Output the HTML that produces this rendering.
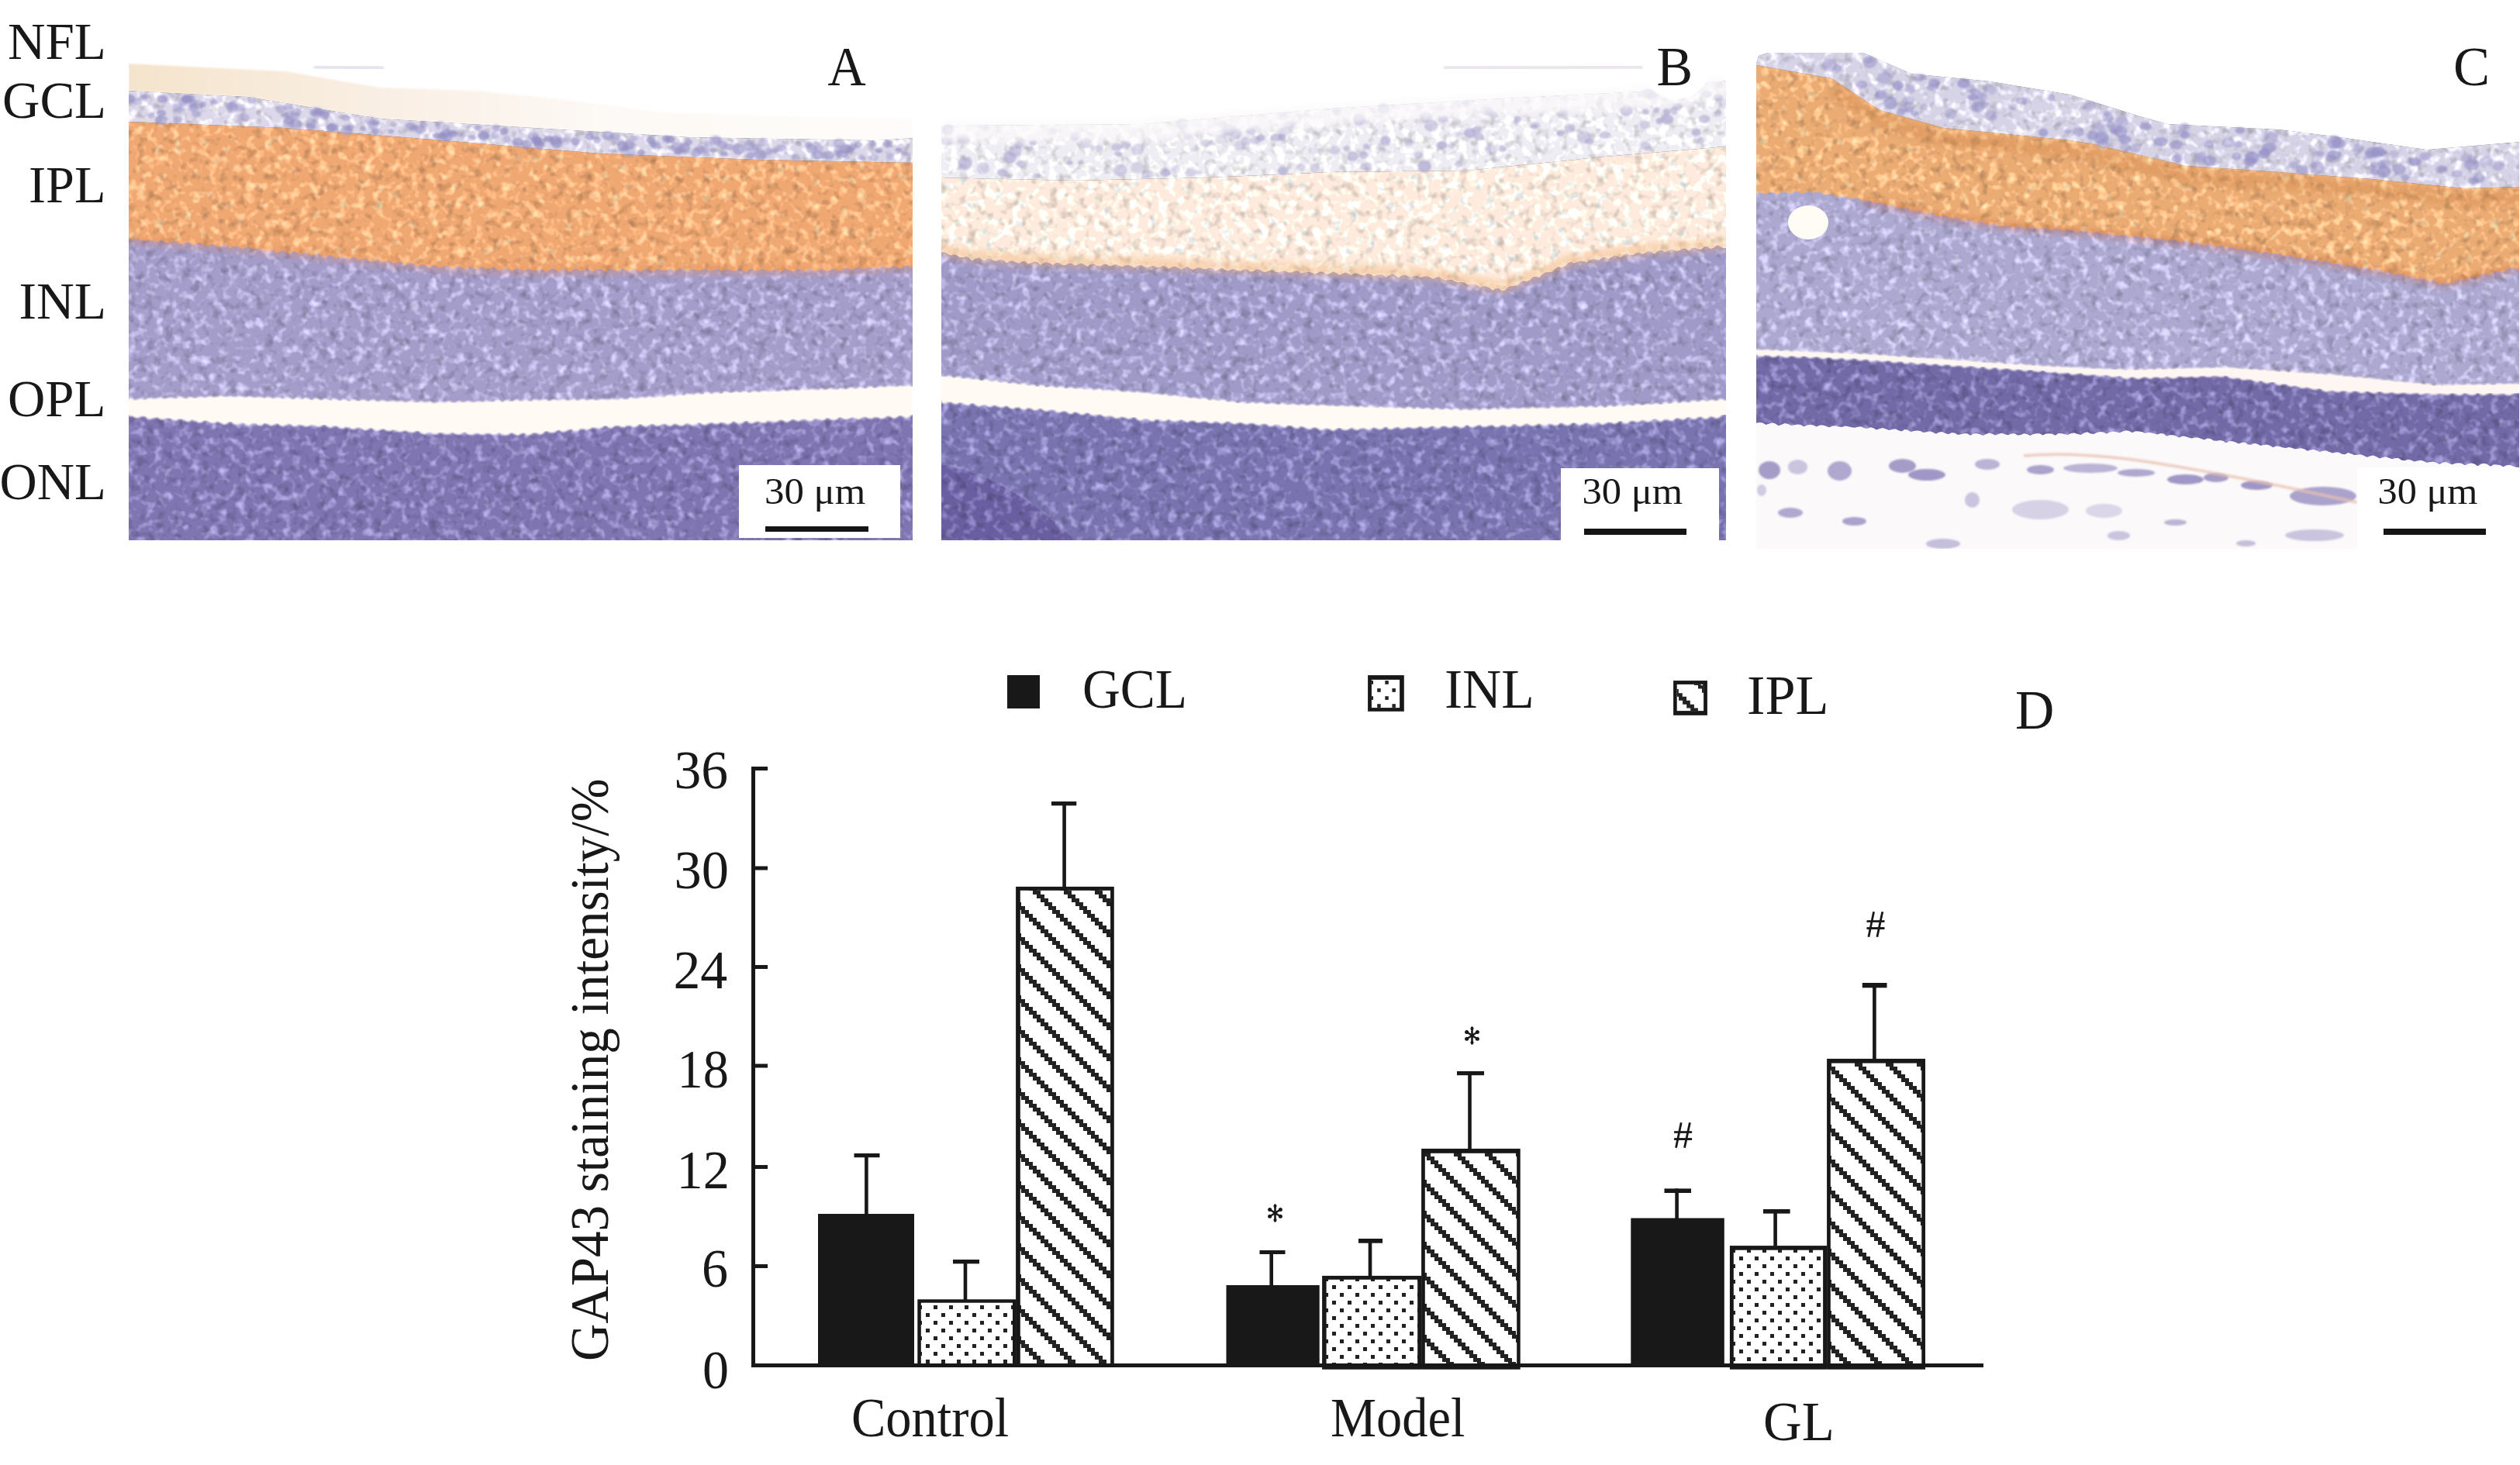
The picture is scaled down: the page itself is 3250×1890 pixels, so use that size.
<!DOCTYPE html>
<html><head><meta charset="utf-8"><style>
html,body{margin:0;padding:0;background:#fff;overflow:hidden}
svg{display:block}
text{font-family:"Liberation Serif", serif}
</style></head><body>
<svg width="3250" height="1890" viewBox="0 0 3250 1890">
<defs>
<pattern id="dots" patternUnits="userSpaceOnUse" x="0" y="0" width="20" height="20">
  <rect width="20" height="20" fill="#fff"/>
  <rect x="4" y="4" width="5" height="5" fill="#222"/>
  <rect x="14" y="14" width="5" height="5" fill="#222"/>
</pattern>
<pattern id="dotsL" patternUnits="userSpaceOnUse" x="1764" y="871" width="19" height="19">
  <rect x="0" y="7" width="5" height="5" fill="#222"/>
  <rect x="9.5" y="16.5" width="5" height="5" fill="#222"/>
</pattern>
<pattern id="hatch" patternUnits="userSpaceOnUse" x="27" y="4" width="40" height="40">
  <rect width="40" height="40" fill="#fff"/>
  <rect x="0" y="0" width="10" height="5" fill="#222"/><rect x="5" y="5" width="10" height="5" fill="#222"/><rect x="10" y="10" width="10" height="5" fill="#222"/><rect x="15" y="15" width="10" height="5" fill="#222"/><rect x="20" y="20" width="10" height="5" fill="#222"/><rect x="25" y="25" width="10" height="5" fill="#222"/><rect x="30" y="30" width="10" height="5" fill="#222"/><rect x="35" y="35" width="10" height="5" fill="#222"/>
  <rect x="-5" y="35" width="10" height="5" fill="#222"/>
</pattern>
<pattern id="hatchL" patternUnits="userSpaceOnUse" x="2162.6" y="882.6" width="34.8" height="35.8">
  <rect width="34.8" height="35.8" fill="#fff"/>
  <path d="M0 10 h5 v5 h5 v5 h5 v5 h5 v5 h5 v5.8 h-10 v-5 h-5 v-5 h-5 v-5 h-5 v-5 h-5z" fill="#222"/>
  <path d="M22 0 h10 v5 h2.8 v10 h-5 v-5 h-5 v-5 h-2.8z" fill="#222"/>
</pattern>
<pattern id="hC" patternUnits="userSpaceOnUse" x="27" y="4" width="40" height="40"><rect width="40" height="40" fill="#fff"/><rect x="0" y="0" width="10" height="5" fill="#222"/><rect x="5" y="5" width="10" height="5" fill="#222"/><rect x="10" y="10" width="10" height="5" fill="#222"/><rect x="15" y="15" width="10" height="5" fill="#222"/><rect x="20" y="20" width="10" height="5" fill="#222"/><rect x="25" y="25" width="10" height="5" fill="#222"/><rect x="30" y="30" width="10" height="5" fill="#222"/><rect x="35" y="35" width="10" height="5" fill="#222"/><rect x="-5" y="35" width="10" height="5" fill="#222"/></pattern><pattern id="hM" patternUnits="userSpaceOnUse" x="30" y="2" width="40" height="40"><rect width="40" height="40" fill="#fff"/><rect x="0" y="0" width="10" height="5" fill="#222"/><rect x="5" y="5" width="10" height="5" fill="#222"/><rect x="10" y="10" width="10" height="5" fill="#222"/><rect x="15" y="15" width="10" height="5" fill="#222"/><rect x="20" y="20" width="10" height="5" fill="#222"/><rect x="25" y="25" width="10" height="5" fill="#222"/><rect x="30" y="30" width="10" height="5" fill="#222"/><rect x="35" y="35" width="10" height="5" fill="#222"/><rect x="-5" y="35" width="10" height="5" fill="#222"/></pattern><pattern id="hG" patternUnits="userSpaceOnUse" x="22" y="1" width="40" height="40"><rect width="40" height="40" fill="#fff"/><rect x="0" y="0" width="10" height="5" fill="#222"/><rect x="5" y="5" width="10" height="5" fill="#222"/><rect x="10" y="10" width="10" height="5" fill="#222"/><rect x="15" y="15" width="10" height="5" fill="#222"/><rect x="20" y="20" width="10" height="5" fill="#222"/><rect x="25" y="25" width="10" height="5" fill="#222"/><rect x="30" y="30" width="10" height="5" fill="#222"/><rect x="35" y="35" width="10" height="5" fill="#222"/><rect x="-5" y="35" width="10" height="5" fill="#222"/></pattern><pattern id="dC" patternUnits="userSpaceOnUse" x="4" y="4" width="20" height="20"><rect width="20" height="20" fill="#fff"/><rect x="0" y="0" width="5" height="5" fill="#222"/><rect x="10" y="10" width="5" height="5" fill="#222"/></pattern><pattern id="dM" patternUnits="userSpaceOnUse" x="18" y="18" width="20" height="20"><rect width="20" height="20" fill="#fff"/><rect x="0" y="0" width="5" height="5" fill="#222"/><rect x="10" y="10" width="5" height="5" fill="#222"/></pattern><pattern id="dG" patternUnits="userSpaceOnUse" x="3" y="1" width="20" height="20"><rect width="20" height="20" fill="#fff"/><rect x="0" y="0" width="5" height="5" fill="#222"/><rect x="10" y="10" width="5" height="5" fill="#222"/></pattern>
<linearGradient id="gA_nfl" x1="0" y1="0" x2="1" y2="0">
  <stop offset="0" stop-color="#f5e4cc"/><stop offset="0.3" stop-color="#f9eee2"/><stop offset="0.6" stop-color="#fdf9f5"/><stop offset="1" stop-color="#fefcfa"/>
</linearGradient>
<clipPath id="clipA"><rect x="166" y="60" width="1011" height="637"/></clipPath>
<clipPath id="clipB"><rect x="1214" y="60" width="1012" height="637"/></clipPath>
<clipPath id="clipC"><rect x="2265" y="60" width="984" height="648"/></clipPath>
<filter id="soft4" x="-5%" y="-50%" width="110%" height="200%"><feGaussianBlur stdDeviation="4"/></filter>
<filter id="soft" x="-5%" y="-50%" width="110%" height="200%"><feGaussianBlur stdDeviation="1.3"/></filter>
<filter id="tex" x="0" y="0" width="100%" height="100%" color-interpolation-filters="sRGB">
  <feTurbulence type="fractalNoise" baseFrequency="0.085" numOctaves="2" seed="7" result="n"/>
  <feColorMatrix in="n" type="matrix" values="2.6 0 0 0 -1.3  2.6 0 0 0 -1.3  2.6 0 0 0 -1.3  0 0 0 0 1" result="g"/>
  <feColorMatrix in="n" type="matrix" values="0 0 2.6 0 -1.35  0 0 2.6 0 -1.35  0 0 2.6 0 -1.35  0 0 0 0 1" result="D"/>
  <feColorMatrix in="D" type="matrix" values="-0.22 0 0 0 1  0 -0.22 0 0 1  0 0 -0.22 0 1  0 0 0 0 1" result="dd"/>
  <feComposite in="SourceGraphic" in2="g" operator="arithmetic" k1="0" k2="1" k3="0.28" k4="0" result="m"/>
  <feComposite in="m" in2="dd" operator="arithmetic" k1="1" k2="0" k3="0" k4="0" result="m2"/>
  <feComposite in="m2" in2="SourceGraphic" operator="in"/>
</filter>
</defs>
<rect width="3250" height="1890" fill="#fff"/>
<g clip-path="url(#clipA)"><path d="M166,82 L368,92 L490,113 L611,117 L733,129 L854,145 L976,149 L1177,153 L1177,178 L1130,181 L890,177 L690,165 L490,153 L320,125 L166,117 Z" fill="url(#gA_nfl)" filter="url(#soft)"/><g filter="url(#tex)"><path d="M166,117 L320,125 L490,153 L690,165 L890,177 L1130,181 L1177,178 L1177,210 L976,206 L773,198 L570,181 L368,165 L166,157 Z" fill="#dcd8ea"/><path d="M166,157 L368,165 L570,181 L773,198 L976,206 L1177,210 L1177,348 L1059,353 L926,353 L793,353 L680,353 L559,348 L426,335 L293,322 L166,313 Z" fill="#efa872"/><path d="M166.0,308.7 L170.1,310.1 L174.2,307.8 L178.3,307.5 L182.4,309.9 L186.5,310.8 L190.6,309.7 L194.7,309.3 L198.8,311.1 L202.9,312.0 L207.0,309.8 L211.1,311.0 L215.2,313.0 L219.3,313.4 L223.4,311.2 L227.5,311.7 L231.5,315.0 L235.6,314.4 L239.7,312.6 L243.8,312.5 L247.9,315.5 L252.0,315.4 L256.1,313.1 L260.2,314.8 L264.3,317.1 L268.4,316.4 L272.5,315.2 L276.6,315.2 L280.7,319.0 L284.8,317.2 L288.9,315.1 L293.0,316.5 L297.0,320.6 L301.1,317.3 L305.1,317.2 L309.1,319.0 L313.2,321.5 L317.2,318.4 L321.2,318.7 L325.2,320.9 L329.3,321.5 L333.3,320.4 L337.3,321.0 L341.4,324.3 L345.4,323.2 L349.4,322.1 L353.5,323.2 L357.5,326.1 L361.5,324.3 L365.5,322.9 L369.6,325.4 L373.6,327.2 L377.6,324.4 L381.7,324.9 L385.7,327.7 L389.7,327.8 L393.8,325.8 L397.8,327.4 L401.8,329.3 L405.8,329.2 L409.9,327.1 L413.9,328.5 L417.9,332.7 L422.0,329.2 L426.0,329.2 L430.0,331.1 L434.1,333.4 L438.1,331.2 L442.1,331.2 L446.2,333.0 L450.2,333.9 L454.2,331.6 L458.2,332.3 L462.3,335.4 L466.3,334.6 L470.3,333.5 L474.4,334.9 L478.4,337.5 L482.4,335.9 L486.5,334.7 L490.5,336.8 L494.5,338.2 L498.5,337.1 L502.6,336.2 L506.6,340.0 L510.6,339.6 L514.7,337.6 L518.7,338.3 L522.7,342.1 L526.8,339.7 L530.8,339.2 L534.8,341.1 L538.8,343.9 L542.9,341.6 L546.9,341.4 L550.9,343.6 L555.0,344.2 L559.0,341.8 L563.0,342.9 L567.1,345.6 L571.1,343.9 L575.1,342.7 L579.2,343.7 L583.2,346.9 L587.2,344.4 L591.3,342.9 L595.3,344.8 L599.3,347.4 L603.4,345.2 L607.4,343.6 L611.4,346.7 L615.5,347.1 L619.5,344.5 L623.5,345.4 L627.6,347.3 L631.6,346.5 L635.6,345.1 L639.7,345.7 L643.7,349.5 L647.7,347.1 L651.8,346.3 L655.8,346.9 L659.8,350.0 L663.9,347.2 L667.9,346.0 L671.9,348.2 L676.0,349.1 L680.0,347.4 L684.0,347.3 L688.1,349.4 L692.1,349.1 L696.1,347.4 L700.2,347.8 L704.2,350.9 L708.2,348.5 L712.3,346.4 L716.3,347.7 L720.4,350.5 L724.4,347.8 L728.4,347.3 L732.5,349.4 L736.5,350.1 L740.5,347.1 L744.6,346.9 L748.6,349.8 L752.6,348.8 L756.7,346.8 L760.7,347.4 L764.8,350.2 L768.8,348.1 L772.8,347.2 L776.9,348.0 L780.9,351.0 L784.9,347.9 L789.0,346.7 L793.0,348.6 L797.0,350.2 L801.1,346.9 L805.1,347.1 L809.1,349.5 L813.2,349.7 L817.2,347.1 L821.2,348.0 L825.2,350.2 L829.3,348.5 L833.3,346.6 L837.3,348.1 L841.4,350.3 L845.4,348.0 L849.4,346.9 L853.5,348.6 L857.5,349.4 L861.5,347.6 L865.5,346.9 L869.6,349.3 L873.6,348.8 L877.6,346.5 L881.7,347.2 L885.7,350.5 L889.7,348.3 L893.8,347.4 L897.8,347.9 L901.8,350.1 L905.8,347.8 L909.9,346.9 L913.9,348.8 L917.9,349.5 L922.0,347.7 L926.0,347.0 L930.0,349.7 L934.1,348.8 L938.1,347.2 L942.1,347.7 L946.2,350.3 L950.2,348.1 L954.2,346.7 L958.2,349.0 L962.3,350.9 L966.3,347.8 L970.3,346.9 L974.4,349.4 L978.4,349.4 L982.4,347.1 L986.5,348.0 L990.5,349.9 L994.5,349.2 L998.5,347.6 L1002.6,348.3 L1006.6,351.0 L1010.6,348.6 L1014.7,347.4 L1018.7,349.0 L1022.7,350.4 L1026.8,347.8 L1030.8,347.0 L1034.8,349.1 L1038.8,349.9 L1042.9,346.8 L1046.9,348.1 L1050.9,350.1 L1055.0,349.0 L1059.0,347.1 L1063.1,348.2 L1067.1,349.9 L1071.2,347.9 L1075.3,346.9 L1079.3,347.2 L1083.4,350.3 L1087.5,346.7 L1091.6,345.8 L1095.6,347.0 L1099.7,348.0 L1103.8,345.4 L1107.8,345.1 L1111.9,346.4 L1116.0,347.2 L1120.0,345.0 L1124.1,344.9 L1128.2,346.5 L1132.2,346.1 L1136.3,343.4 L1140.4,343.5 L1144.4,346.2 L1148.5,345.3 L1152.6,342.6 L1156.7,344.2 L1160.7,346.6 L1164.8,343.9 L1168.9,342.2 L1172.9,343.7 L1177,346 L1177,499 L1059,504 L926,508 L793,517 L680,518 L559,521 L426,517 L293,513 L166,517 Z" fill="#a49cc9"/><path d="M166,535 L293,544 L426,548 L559,557 L680,558 L793,548 L926,544 L1059,539 L1177,535 L1177,697 L166,697 Z" fill="#7e75b1"/></g><g filter="url(#soft)"><ellipse cx="623.4" cy="174.3" rx="7.7" ry="5.9" fill="#9490c4" opacity="0.55"/><ellipse cx="759.8" cy="176.2" rx="6.0" ry="5.0" fill="#9490c4" opacity="0.67"/><ellipse cx="261.2" cy="134.9" rx="4.4" ry="3.9" fill="#9490c4" opacity="0.63"/><ellipse cx="208.3" cy="155.1" rx="7.9" ry="6.5" fill="#9490c4" opacity="0.60"/><ellipse cx="325.2" cy="129.3" rx="6.1" ry="3.8" fill="#9490c4" opacity="0.43"/><ellipse cx="410.6" cy="143.6" rx="5.9" ry="4.4" fill="#9490c4" opacity="0.69"/><ellipse cx="690.8" cy="180.9" rx="6.0" ry="5.0" fill="#9490c4" opacity="0.53"/><ellipse cx="447.2" cy="168.2" rx="8.0" ry="7.1" fill="#9490c4" opacity="0.63"/><ellipse cx="484.7" cy="158.8" rx="5.2" ry="3.2" fill="#9490c4" opacity="0.66"/><ellipse cx="570.8" cy="175.4" rx="5.5" ry="5.2" fill="#9490c4" opacity="0.69"/><ellipse cx="166.6" cy="127.2" rx="7.6" ry="5.8" fill="#9490c4" opacity="0.74"/><ellipse cx="567.8" cy="161.9" rx="6.5" ry="5.7" fill="#9490c4" opacity="0.46"/><ellipse cx="254.1" cy="135.5" rx="7.9" ry="6.8" fill="#9490c4" opacity="0.40"/><ellipse cx="415.1" cy="145.9" rx="4.2" ry="3.7" fill="#9490c4" opacity="0.42"/><ellipse cx="731.4" cy="179.9" rx="4.8" ry="4.1" fill="#9490c4" opacity="0.40"/><ellipse cx="816.8" cy="178.1" rx="5.7" ry="3.8" fill="#9490c4" opacity="0.46"/><ellipse cx="1147.6" cy="201.8" rx="5.2" ry="4.7" fill="#9490c4" opacity="0.43"/><ellipse cx="564.6" cy="175.1" rx="6.6" ry="4.2" fill="#9490c4" opacity="0.75"/><ellipse cx="381.6" cy="144.6" rx="7.1" ry="5.1" fill="#9490c4" opacity="0.47"/><ellipse cx="240.2" cy="126.8" rx="6.3" ry="4.3" fill="#9490c4" opacity="0.59"/><ellipse cx="541.8" cy="166.7" rx="7.8" ry="6.0" fill="#9490c4" opacity="0.58"/><ellipse cx="1042.1" cy="186.5" rx="4.6" ry="4.2" fill="#9490c4" opacity="0.68"/><ellipse cx="418.2" cy="148.3" rx="7.0" ry="6.5" fill="#9490c4" opacity="0.43"/><ellipse cx="1126.6" cy="203.4" rx="6.4" ry="4.8" fill="#9490c4" opacity="0.39"/><ellipse cx="205.1" cy="154.3" rx="5.0" ry="4.2" fill="#9490c4" opacity="0.45"/><ellipse cx="998.8" cy="194.7" rx="5.2" ry="3.4" fill="#9490c4" opacity="0.64"/><ellipse cx="235.5" cy="131.2" rx="6.2" ry="5.6" fill="#9490c4" opacity="0.60"/><ellipse cx="449.3" cy="166.9" rx="4.8" ry="2.9" fill="#9490c4" opacity="0.46"/><ellipse cx="616.6" cy="164.7" rx="4.7" ry="3.4" fill="#9490c4" opacity="0.58"/><ellipse cx="299.0" cy="138.6" rx="7.6" ry="7.1" fill="#9490c4" opacity="0.61"/><ellipse cx="864.8" cy="190.3" rx="4.6" ry="2.8" fill="#9490c4" opacity="0.36"/><ellipse cx="1086.2" cy="198.6" rx="7.9" ry="4.8" fill="#9490c4" opacity="0.60"/><ellipse cx="653.5" cy="179.8" rx="5.3" ry="5.0" fill="#9490c4" opacity="0.38"/><ellipse cx="718.1" cy="185.0" rx="7.6" ry="6.5" fill="#9490c4" opacity="0.63"/><ellipse cx="968.0" cy="200.9" rx="5.4" ry="4.5" fill="#9490c4" opacity="0.71"/><ellipse cx="1046.7" cy="191.7" rx="7.2" ry="6.5" fill="#9490c4" opacity="0.58"/><ellipse cx="797.8" cy="182.7" rx="6.3" ry="5.1" fill="#9490c4" opacity="0.38"/><ellipse cx="812.4" cy="196.4" rx="7.5" ry="6.4" fill="#9490c4" opacity="0.51"/><ellipse cx="909.1" cy="192.0" rx="5.8" ry="5.1" fill="#9490c4" opacity="0.38"/><ellipse cx="924.5" cy="181.2" rx="6.4" ry="4.9" fill="#9490c4" opacity="0.44"/><ellipse cx="872.0" cy="188.9" rx="6.5" ry="6.0" fill="#9490c4" opacity="0.45"/><ellipse cx="177.4" cy="130.8" rx="6.7" ry="4.5" fill="#9490c4" opacity="0.42"/><ellipse cx="1081.7" cy="197.7" rx="5.8" ry="5.3" fill="#9490c4" opacity="0.48"/><ellipse cx="839.2" cy="181.1" rx="5.7" ry="5.0" fill="#9490c4" opacity="0.72"/><ellipse cx="1056.0" cy="191.2" rx="6.3" ry="4.5" fill="#9490c4" opacity="0.40"/><ellipse cx="667.9" cy="183.0" rx="7.4" ry="6.3" fill="#9490c4" opacity="0.73"/><ellipse cx="445.8" cy="152.0" rx="5.8" ry="4.0" fill="#9490c4" opacity="0.44"/><ellipse cx="584.5" cy="172.7" rx="6.0" ry="4.2" fill="#9490c4" opacity="0.69"/><ellipse cx="1158.8" cy="193.2" rx="4.3" ry="2.6" fill="#9490c4" opacity="0.70"/><ellipse cx="207.9" cy="145.9" rx="6.3" ry="4.4" fill="#9490c4" opacity="0.67"/><ellipse cx="185.3" cy="125.6" rx="5.8" ry="3.5" fill="#9490c4" opacity="0.68"/><ellipse cx="406.0" cy="145.4" rx="4.2" ry="3.4" fill="#9490c4" opacity="0.53"/><ellipse cx="802.9" cy="188.8" rx="7.2" ry="6.8" fill="#9490c4" opacity="0.62"/><ellipse cx="367.5" cy="148.3" rx="4.7" ry="2.8" fill="#9490c4" opacity="0.54"/><ellipse cx="888.0" cy="183.4" rx="5.1" ry="3.7" fill="#9490c4" opacity="0.63"/><ellipse cx="692.1" cy="180.5" rx="7.0" ry="5.2" fill="#9490c4" opacity="0.67"/><ellipse cx="1082.2" cy="185.1" rx="7.7" ry="6.6" fill="#9490c4" opacity="0.40"/><ellipse cx="624.5" cy="175.6" rx="7.6" ry="5.6" fill="#9490c4" opacity="0.58"/><ellipse cx="1055.0" cy="200.1" rx="7.8" ry="5.9" fill="#9490c4" opacity="0.61"/><ellipse cx="373.1" cy="155.3" rx="7.3" ry="6.0" fill="#9490c4" opacity="0.64"/><ellipse cx="381.6" cy="160.6" rx="7.9" ry="7.5" fill="#9490c4" opacity="0.56"/><ellipse cx="965.5" cy="188.1" rx="7.6" ry="6.9" fill="#9490c4" opacity="0.49"/><ellipse cx="249.7" cy="138.9" rx="6.2" ry="5.4" fill="#9490c4" opacity="0.54"/><ellipse cx="194.7" cy="148.7" rx="4.3" ry="3.7" fill="#9490c4" opacity="0.42"/><ellipse cx="504.7" cy="169.4" rx="4.6" ry="3.0" fill="#9490c4" opacity="0.56"/><ellipse cx="897.5" cy="196.7" rx="6.8" ry="6.3" fill="#9490c4" opacity="0.55"/><ellipse cx="1125.6" cy="185.8" rx="4.9" ry="3.8" fill="#9490c4" opacity="0.47"/><ellipse cx="902.9" cy="192.9" rx="6.1" ry="5.5" fill="#9490c4" opacity="0.57"/><ellipse cx="481.1" cy="160.8" rx="7.4" ry="6.8" fill="#9490c4" opacity="0.43"/><ellipse cx="1026.1" cy="203.3" rx="6.1" ry="4.9" fill="#9490c4" opacity="0.43"/><ellipse cx="707.8" cy="179.4" rx="6.4" ry="3.9" fill="#9490c4" opacity="0.74"/><ellipse cx="687.7" cy="175.9" rx="7.2" ry="5.7" fill="#9490c4" opacity="0.55"/><ellipse cx="864.6" cy="179.8" rx="6.2" ry="4.6" fill="#9490c4" opacity="0.73"/><ellipse cx="1099.6" cy="189.4" rx="5.9" ry="3.8" fill="#9490c4" opacity="0.52"/><ellipse cx="990.7" cy="201.1" rx="5.9" ry="4.2" fill="#9490c4" opacity="0.43"/><ellipse cx="790.7" cy="194.1" rx="4.5" ry="3.9" fill="#9490c4" opacity="0.36"/><ellipse cx="362.2" cy="141.1" rx="6.7" ry="4.8" fill="#9490c4" opacity="0.49"/><ellipse cx="792.6" cy="176.4" rx="6.9" ry="4.5" fill="#9490c4" opacity="0.55"/><ellipse cx="419.3" cy="148.6" rx="6.1" ry="4.6" fill="#9490c4" opacity="0.50"/><ellipse cx="583.9" cy="170.9" rx="4.6" ry="3.1" fill="#9490c4" opacity="0.60"/><ellipse cx="811.5" cy="186.5" rx="7.4" ry="6.0" fill="#9490c4" opacity="0.69"/><ellipse cx="401.2" cy="158.6" rx="7.2" ry="6.6" fill="#9490c4" opacity="0.48"/><ellipse cx="484.5" cy="170.0" rx="4.9" ry="4.6" fill="#9490c4" opacity="0.71"/><ellipse cx="301.4" cy="134.8" rx="6.9" ry="4.8" fill="#9490c4" opacity="0.39"/><ellipse cx="1007.3" cy="191.1" rx="7.2" ry="4.6" fill="#9490c4" opacity="0.51"/><ellipse cx="858.8" cy="178.5" rx="4.8" ry="4.0" fill="#9490c4" opacity="0.71"/><ellipse cx="1145.0" cy="185.7" rx="6.0" ry="5.2" fill="#9490c4" opacity="0.55"/><ellipse cx="859.2" cy="182.0" rx="4.3" ry="2.7" fill="#9490c4" opacity="0.36"/><ellipse cx="723.7" cy="180.8" rx="6.3" ry="4.1" fill="#9490c4" opacity="0.42"/><ellipse cx="372.2" cy="158.2" rx="8.0" ry="7.4" fill="#9490c4" opacity="0.39"/><ellipse cx="228.6" cy="154.9" rx="5.8" ry="5.1" fill="#9490c4" opacity="0.48"/><ellipse cx="638.1" cy="174.6" rx="5.7" ry="4.6" fill="#9490c4" opacity="0.36"/><ellipse cx="874.7" cy="195.9" rx="4.7" ry="3.6" fill="#9490c4" opacity="0.65"/><ellipse cx="575.8" cy="164.5" rx="4.7" ry="3.6" fill="#9490c4" opacity="0.36"/><ellipse cx="1069.0" cy="200.5" rx="6.8" ry="6.1" fill="#9490c4" opacity="0.60"/><ellipse cx="575.0" cy="171.5" rx="6.0" ry="5.7" fill="#9490c4" opacity="0.67"/><ellipse cx="427.1" cy="164.8" rx="7.0" ry="6.1" fill="#9490c4" opacity="0.68"/><ellipse cx="576.1" cy="176.7" rx="7.5" ry="6.3" fill="#9490c4" opacity="0.66"/><ellipse cx="939.6" cy="189.2" rx="6.9" ry="4.3" fill="#9490c4" opacity="0.49"/><ellipse cx="640.0" cy="165.2" rx="5.4" ry="4.5" fill="#9490c4" opacity="0.60"/><ellipse cx="400.7" cy="163.3" rx="6.7" ry="4.8" fill="#9490c4" opacity="0.61"/><ellipse cx="741.8" cy="182.5" rx="5.6" ry="5.3" fill="#9490c4" opacity="0.61"/><ellipse cx="875.0" cy="194.3" rx="7.9" ry="4.8" fill="#9490c4" opacity="0.60"/><ellipse cx="912.9" cy="185.5" rx="5.6" ry="3.5" fill="#9490c4" opacity="0.43"/><ellipse cx="545.8" cy="161.0" rx="5.0" ry="4.6" fill="#9490c4" opacity="0.57"/><ellipse cx="679.4" cy="186.5" rx="6.3" ry="5.9" fill="#9490c4" opacity="0.61"/><ellipse cx="984.4" cy="183.2" rx="6.4" ry="5.5" fill="#9490c4" opacity="0.37"/><ellipse cx="1106.4" cy="187.1" rx="5.9" ry="3.9" fill="#9490c4" opacity="0.55"/><ellipse cx="783.9" cy="174.9" rx="7.8" ry="5.8" fill="#9490c4" opacity="0.56"/><ellipse cx="770.4" cy="180.9" rx="5.1" ry="4.3" fill="#9490c4" opacity="0.57"/><ellipse cx="452.6" cy="163.4" rx="5.2" ry="3.1" fill="#9490c4" opacity="0.45"/><ellipse cx="209.2" cy="127.5" rx="7.0" ry="5.2" fill="#9490c4" opacity="0.71"/><ellipse cx="922.6" cy="181.6" rx="8.0" ry="7.4" fill="#9490c4" opacity="0.38"/><ellipse cx="1081.5" cy="192.6" rx="5.9" ry="5.6" fill="#9490c4" opacity="0.45"/><ellipse cx="695.1" cy="187.2" rx="6.9" ry="5.3" fill="#9490c4" opacity="0.74"/><ellipse cx="991.7" cy="194.7" rx="4.5" ry="3.7" fill="#9490c4" opacity="0.53"/><ellipse cx="371.9" cy="137.9" rx="6.1" ry="3.9" fill="#9490c4" opacity="0.53"/><ellipse cx="841.2" cy="186.5" rx="5.0" ry="4.1" fill="#9490c4" opacity="0.52"/><ellipse cx="952.5" cy="192.2" rx="8.0" ry="7.5" fill="#9490c4" opacity="0.64"/><ellipse cx="407.0" cy="144.9" rx="7.6" ry="6.6" fill="#9490c4" opacity="0.60"/><ellipse cx="529.1" cy="162.8" rx="6.7" ry="5.4" fill="#9490c4" opacity="0.59"/><ellipse cx="806.1" cy="191.0" rx="4.8" ry="3.3" fill="#9490c4" opacity="0.74"/><ellipse cx="1091.8" cy="202.6" rx="4.2" ry="2.6" fill="#9490c4" opacity="0.46"/><ellipse cx="595.9" cy="173.5" rx="4.4" ry="3.5" fill="#9490c4" opacity="0.38"/><ellipse cx="253.4" cy="146.8" rx="6.2" ry="5.1" fill="#9490c4" opacity="0.50"/><ellipse cx="649.8" cy="169.6" rx="5.4" ry="4.6" fill="#9490c4" opacity="0.69"/><ellipse cx="241.2" cy="127.9" rx="7.2" ry="5.9" fill="#9490c4" opacity="0.66"/><ellipse cx="381.5" cy="148.7" rx="5.0" ry="4.4" fill="#9490c4" opacity="0.50"/><ellipse cx="826.8" cy="196.9" rx="5.3" ry="4.2" fill="#9490c4" opacity="0.65"/><ellipse cx="1097.0" cy="192.8" rx="5.5" ry="3.5" fill="#9490c4" opacity="0.70"/><ellipse cx="245.4" cy="126.9" rx="6.3" ry="4.8" fill="#9490c4" opacity="0.62"/><ellipse cx="468.2" cy="166.0" rx="4.3" ry="2.9" fill="#9490c4" opacity="0.61"/><ellipse cx="248.6" cy="134.3" rx="6.9" ry="5.8" fill="#9490c4" opacity="0.46"/><ellipse cx="310.5" cy="139.0" rx="6.9" ry="5.0" fill="#9490c4" opacity="0.40"/><ellipse cx="883.1" cy="190.8" rx="7.7" ry="7.1" fill="#9490c4" opacity="0.72"/><ellipse cx="608.8" cy="177.7" rx="5.2" ry="3.7" fill="#9490c4" opacity="0.51"/><ellipse cx="1110.9" cy="203.4" rx="5.0" ry="3.6" fill="#9490c4" opacity="0.50"/><ellipse cx="533.3" cy="165.1" rx="5.6" ry="3.7" fill="#9490c4" opacity="0.58"/><ellipse cx="971.9" cy="193.0" rx="7.3" ry="5.9" fill="#9490c4" opacity="0.42"/><ellipse cx="933.3" cy="198.9" rx="5.1" ry="3.1" fill="#9490c4" opacity="0.56"/><ellipse cx="716.1" cy="181.3" rx="7.9" ry="6.5" fill="#9490c4" opacity="0.67"/><ellipse cx="230.8" cy="141.5" rx="7.2" ry="4.5" fill="#9490c4" opacity="0.38"/><ellipse cx="911.2" cy="198.4" rx="4.3" ry="3.6" fill="#9490c4" opacity="0.41"/><ellipse cx="920.0" cy="193.7" rx="5.0" ry="3.4" fill="#9490c4" opacity="0.66"/><ellipse cx="693.3" cy="183.6" rx="5.6" ry="4.0" fill="#9490c4" opacity="0.74"/><ellipse cx="845.8" cy="187.5" rx="6.1" ry="5.2" fill="#9490c4" opacity="0.63"/><ellipse cx="1091.0" cy="192.4" rx="7.3" ry="6.1" fill="#9490c4" opacity="0.69"/><ellipse cx="980.8" cy="199.5" rx="7.6" ry="7.1" fill="#9490c4" opacity="0.61"/><ellipse cx="695.6" cy="182.7" rx="7.2" ry="5.4" fill="#9490c4" opacity="0.52"/><ellipse cx="313.8" cy="151.5" rx="8.0" ry="5.8" fill="#9490c4" opacity="0.42"/><ellipse cx="372.6" cy="147.6" rx="5.2" ry="4.9" fill="#9490c4" opacity="0.37"/><ellipse cx="477.8" cy="155.9" rx="6.6" ry="5.7" fill="#9490c4" opacity="0.42"/><ellipse cx="229.0" cy="138.5" rx="6.3" ry="5.8" fill="#9490c4" opacity="0.36"/><ellipse cx="275.9" cy="131.7" rx="4.9" ry="3.3" fill="#9490c4" opacity="0.64"/><ellipse cx="767.3" cy="177.5" rx="4.7" ry="3.3" fill="#9490c4" opacity="0.42"/><ellipse cx="931.8" cy="187.1" rx="6.2" ry="5.5" fill="#9490c4" opacity="0.54"/><ellipse cx="429.3" cy="164.5" rx="7.7" ry="5.5" fill="#9490c4" opacity="0.57"/><ellipse cx="1133.5" cy="194.6" rx="4.9" ry="3.0" fill="#9490c4" opacity="0.73"/><ellipse cx="976.2" cy="189.7" rx="6.1" ry="4.8" fill="#9490c4" opacity="0.46"/><ellipse cx="1167.1" cy="198.2" rx="5.0" ry="3.0" fill="#9490c4" opacity="0.54"/></g><path d="M166.0,514.2 L170.1,513.7 L174.2,516.6 L178.3,514.4 L182.4,514.0 L186.5,515.9 L190.6,513.6 L194.7,513.3 L198.8,514.2 L202.9,513.7 L207.0,512.6 L211.1,514.3 L215.2,513.6 L219.3,512.4 L223.4,513.3 L227.5,514.4 L231.5,511.5 L235.6,512.5 L239.7,514.5 L243.8,511.9 L247.9,512.3 L252.0,514.1 L256.1,511.7 L260.2,511.5 L264.3,513.1 L268.4,511.2 L272.5,511.3 L276.6,512.5 L280.7,511.8 L284.8,509.8 L288.9,511.4 L293.0,511.8 L297.0,510.4 L301.1,512.1 L305.1,511.4 L309.1,510.7 L313.2,511.8 L317.2,512.5 L321.2,510.7 L325.2,512.0 L329.3,512.7 L333.3,511.7 L337.3,512.1 L341.4,513.7 L345.4,511.6 L349.4,512.9 L353.5,514.2 L357.5,512.0 L361.5,513.0 L365.5,514.6 L369.6,512.1 L373.6,513.1 L377.6,515.5 L381.7,513.1 L385.7,513.5 L389.7,515.0 L393.8,512.8 L397.8,513.7 L401.8,516.6 L405.8,513.4 L409.9,514.1 L413.9,516.4 L417.9,513.9 L422.0,514.1 L426.0,517.0 L430.0,514.1 L434.1,514.7 L438.1,517.4 L442.1,514.6 L446.2,515.3 L450.2,517.7 L454.2,515.0 L458.2,515.7 L462.3,517.3 L466.3,515.7 L470.3,515.6 L474.4,518.1 L478.4,516.0 L482.4,515.3 L486.5,518.5 L490.5,516.8 L494.5,516.1 L498.5,518.3 L502.6,517.5 L506.6,516.9 L510.6,518.5 L514.7,517.4 L518.7,517.3 L522.7,519.1 L526.8,517.8 L530.8,516.8 L534.8,518.8 L538.8,519.3 L542.9,517.3 L546.9,518.7 L550.9,518.6 L555.0,517.6 L559.0,520.0 L563.0,519.0 L567.1,518.1 L571.1,518.9 L575.1,518.7 L579.2,517.3 L583.2,519.1 L587.2,519.4 L591.3,516.7 L595.3,518.6 L599.3,518.8 L603.4,517.1 L607.4,518.2 L611.4,518.7 L615.5,517.2 L619.5,517.8 L623.5,518.8 L627.6,516.9 L631.6,517.5 L635.6,518.4 L639.7,515.9 L643.7,516.1 L647.7,518.8 L651.8,516.0 L655.8,516.4 L659.8,518.1 L663.9,515.7 L667.9,515.3 L671.9,518.2 L676.0,516.0 L680.0,515.2 L684.0,518.3 L688.1,515.2 L692.1,515.2 L696.1,517.1 L700.2,515.3 L704.2,514.9 L708.2,517.6 L712.3,515.3 L716.3,515.2 L720.4,516.8 L724.4,515.3 L728.4,515.1 L732.5,517.1 L736.5,515.5 L740.5,514.3 L744.6,516.9 L748.6,515.1 L752.6,514.2 L756.7,516.8 L760.7,515.2 L764.8,514.8 L768.8,516.5 L772.8,515.3 L776.9,514.5 L780.9,515.3 L784.9,515.5 L789.0,514.2 L793.0,515.1 L797.0,515.8 L801.1,513.2 L805.1,515.1 L809.1,515.0 L813.2,512.1 L817.2,513.4 L821.2,514.2 L825.2,512.3 L829.3,512.1 L833.3,513.0 L837.3,510.7 L841.4,512.2 L845.4,512.4 L849.4,510.4 L853.5,511.2 L857.5,512.0 L861.5,509.3 L865.5,510.1 L869.6,511.3 L873.6,509.1 L877.6,508.6 L881.7,510.3 L885.7,507.6 L889.7,508.2 L893.8,509.4 L897.8,507.1 L901.8,507.1 L905.8,509.0 L909.9,506.1 L913.9,506.4 L917.9,508.9 L922.0,506.2 L926.0,505.8 L930.0,508.4 L934.1,504.7 L938.1,505.0 L942.1,507.0 L946.2,505.5 L950.2,504.6 L954.2,506.4 L958.2,504.5 L962.3,504.2 L966.3,506.4 L970.3,504.8 L974.4,504.1 L978.4,506.2 L982.4,504.2 L986.5,503.4 L990.5,504.9 L994.5,504.3 L998.5,503.2 L1002.6,505.1 L1006.6,504.0 L1010.6,502.8 L1014.7,504.6 L1018.7,503.3 L1022.7,502.7 L1026.8,503.3 L1030.8,503.2 L1034.8,501.2 L1038.8,503.1 L1042.9,502.6 L1046.9,501.4 L1050.9,502.3 L1055.0,503.0 L1059.0,500.8 L1063.1,502.5 L1067.1,502.1 L1071.2,500.2 L1075.3,501.9 L1079.3,502.5 L1083.4,500.6 L1087.5,501.0 L1091.6,502.4 L1095.6,499.7 L1099.7,499.4 L1103.8,501.9 L1107.8,499.4 L1111.9,499.3 L1116.0,501.8 L1120.0,498.6 L1124.1,498.3 L1128.2,501.2 L1132.2,498.8 L1136.3,497.7 L1140.4,499.4 L1144.4,498.0 L1148.5,497.4 L1152.6,498.6 L1156.7,498.5 L1160.7,497.2 L1164.8,498.0 L1168.9,497.8 L1172.9,496.7 L1177,499 L1177,535 L1172.9,537.7 L1168.9,539.8 L1164.8,538.1 L1160.7,535.8 L1156.7,538.7 L1152.6,540.2 L1148.5,538.1 L1144.4,537.0 L1140.4,539.7 L1136.3,540.4 L1132.2,538.7 L1128.2,538.6 L1124.1,540.6 L1120.0,540.0 L1116.0,537.9 L1111.9,539.5 L1107.8,541.4 L1103.8,540.4 L1099.7,538.8 L1095.6,540.3 L1091.6,541.6 L1087.5,540.8 L1083.4,538.0 L1079.3,541.6 L1075.3,542.3 L1071.2,541.5 L1067.1,539.1 L1063.1,542.2 L1059.0,542.5 L1055.0,541.2 L1050.9,540.4 L1046.9,543.5 L1042.9,543.8 L1038.8,541.4 L1034.8,541.3 L1030.8,543.8 L1026.8,543.0 L1022.7,540.9 L1018.7,543.1 L1014.7,545.2 L1010.6,543.3 L1006.6,541.7 L1002.6,544.3 L998.5,544.9 L994.5,543.7 L990.5,543.0 L986.5,545.7 L982.4,545.8 L978.4,543.9 L974.4,544.6 L970.3,546.4 L966.3,546.1 L962.3,542.6 L958.2,545.7 L954.2,546.7 L950.2,546.3 L946.2,543.4 L942.1,546.8 L938.1,547.8 L934.1,545.8 L930.0,544.9 L926.0,547.1 L922.0,547.3 L917.9,545.2 L913.9,546.4 L909.9,548.6 L905.8,548.0 L901.8,545.0 L897.8,547.9 L893.8,549.0 L889.7,548.0 L885.7,545.9 L881.7,549.1 L877.6,549.7 L873.6,548.1 L869.6,546.9 L865.5,549.7 L861.5,549.5 L857.5,547.1 L853.5,548.0 L849.4,549.7 L845.4,549.4 L841.4,546.7 L837.3,549.0 L833.3,550.9 L829.3,549.5 L825.2,547.0 L821.2,550.3 L817.2,551.5 L813.2,549.4 L809.1,549.3 L805.1,551.6 L801.1,551.1 L797.0,549.3 L793.0,549.8 L789.0,552.8 L784.9,552.1 L780.9,548.8 L776.9,551.8 L772.8,553.2 L768.8,552.7 L764.8,551.5 L760.7,553.7 L756.7,555.0 L752.6,553.6 L748.6,553.7 L744.6,556.4 L740.5,556.8 L736.5,553.8 L732.5,555.3 L728.4,557.3 L724.4,557.6 L720.4,554.6 L716.3,557.6 L712.3,558.8 L708.2,557.9 L704.2,556.0 L700.2,559.4 L696.1,560.9 L692.1,558.9 L688.1,558.7 L684.0,560.8 L680.0,562.2 L676.0,558.6 L671.9,559.9 L667.9,562.2 L663.9,560.6 L659.8,558.3 L655.8,561.1 L651.8,561.8 L647.7,560.9 L643.7,558.5 L639.7,560.9 L635.6,561.5 L631.6,559.5 L627.6,559.3 L623.5,561.0 L619.5,560.7 L615.5,559.0 L611.4,560.0 L607.4,561.3 L603.4,560.8 L599.3,557.3 L595.3,560.0 L591.3,560.8 L587.2,560.2 L583.2,558.0 L579.2,560.5 L575.1,560.5 L571.1,558.9 L567.1,558.2 L563.0,560.6 L559.0,560.3 L555.0,558.1 L550.9,559.0 L546.9,560.5 L542.9,558.9 L538.8,555.5 L534.8,557.6 L530.8,558.5 L526.8,557.5 L522.7,555.4 L518.7,557.0 L514.7,557.6 L510.6,555.8 L506.6,554.5 L502.6,556.5 L498.5,556.0 L494.5,553.3 L490.5,554.4 L486.5,556.4 L482.4,554.7 L478.4,552.0 L474.4,554.4 L470.3,555.5 L466.3,553.4 L462.3,551.5 L458.2,553.5 L454.2,553.9 L450.2,551.8 L446.2,551.0 L442.1,553.3 L438.1,552.4 L434.1,549.8 L430.0,550.3 L426.0,551.9 L422.0,550.5 L417.9,547.7 L413.9,550.3 L409.9,551.1 L405.8,549.3 L401.8,548.2 L397.8,550.0 L393.8,550.6 L389.7,548.7 L385.7,548.3 L381.7,549.9 L377.6,549.7 L373.6,546.8 L369.6,548.2 L365.5,549.9 L361.5,549.4 L357.5,546.3 L353.5,548.3 L349.4,549.5 L345.4,547.5 L341.4,545.9 L337.3,549.2 L333.3,549.0 L329.3,546.5 L325.2,547.1 L321.2,548.9 L317.2,548.3 L313.2,545.2 L309.1,547.0 L305.1,548.3 L301.1,547.2 L297.0,543.6 L293.0,546.7 L288.9,548.1 L284.8,546.1 L280.7,544.1 L276.6,546.1 L272.5,546.0 L268.4,544.3 L264.3,542.2 L260.2,545.0 L256.1,545.2 L252.0,543.2 L247.9,541.4 L243.8,544.6 L239.7,543.5 L235.6,541.3 L231.5,540.6 L227.5,542.8 L223.4,542.5 L219.3,539.9 L215.2,539.8 L211.1,541.4 L207.0,541.3 L202.9,538.5 L198.8,539.6 L194.7,540.8 L190.6,540.8 L186.5,537.1 L182.4,537.6 L178.3,539.6 L174.2,539.0 L170.1,536.8 L166.0,537.2 Z" fill="#fffaf4" filter="url(#soft)"/><polyline points="166,309 293,318 426,331 559,344 680,349 793,349 926,349 1059,349 1177,344" fill="none" stroke="#e49060" stroke-width="9" opacity="0.40" filter="url(#soft4)"/></g><rect x="953" y="600" width="208" height="94" fill="#fff"/><rect x="987" y="679" width="133" height="7" fill="#151515"/><g clip-path="url(#clipB)"><g filter="url(#tex)"><path d="M1214,162 L1471,160 L1715,140 L1937,127 L2114,118 L2226,104 L2226,189 L2070,202 L1892,220 L1715,222 L1560,229 L1382,233 L1214,229 Z" fill="#efedf4"/><path d="M1214,229 L1382,233 L1560,229 L1715,222 L1892,220 L2070,202 L2226,189 L2226,322 L2114,331 L2026,344 L1937,379 L1848,362 L1715,357 L1604,353 L1471,348 L1338,344 L1250,338 L1214,330 Z" fill="#ffebdd"/><path d="M1214.0,325.5 L1218.0,325.4 L1222.0,327.5 L1226.0,329.4 L1230.0,328.3 L1234.0,329.2 L1238.0,332.1 L1242.0,331.9 L1246.0,330.9 L1250.0,332.7 L1254.0,336.8 L1258.0,333.5 L1262.0,332.5 L1266.0,334.4 L1270.0,336.5 L1274.0,333.6 L1278.0,334.1 L1282.0,336.5 L1286.0,336.6 L1290.0,334.5 L1294.0,335.6 L1298.0,339.3 L1302.0,337.0 L1306.0,336.2 L1310.0,338.3 L1314.0,339.7 L1318.0,337.4 L1322.0,337.1 L1326.0,340.5 L1330.0,339.0 L1334.0,337.5 L1338.0,338.6 L1342.0,341.7 L1346.1,339.1 L1350.1,337.9 L1354.1,339.5 L1358.2,341.7 L1362.2,338.7 L1366.2,339.5 L1370.2,341.8 L1374.3,342.0 L1378.3,339.8 L1382.3,340.0 L1386.4,342.7 L1390.4,341.0 L1394.4,339.4 L1398.5,341.4 L1402.5,344.0 L1406.5,341.0 L1410.5,340.4 L1414.6,342.5 L1418.6,343.4 L1422.6,341.2 L1426.7,340.7 L1430.7,343.2 L1434.7,342.6 L1438.8,340.7 L1442.8,342.3 L1446.8,344.2 L1450.8,342.7 L1454.9,341.8 L1458.9,343.2 L1462.9,345.6 L1467.0,343.0 L1471.0,341.8 L1475.0,343.4 L1479.1,345.5 L1483.1,343.2 L1487.1,342.9 L1491.2,345.1 L1495.2,344.8 L1499.2,343.1 L1503.2,344.1 L1507.3,346.9 L1511.3,344.6 L1515.3,343.6 L1519.4,345.5 L1523.4,347.8 L1527.4,345.3 L1531.5,344.1 L1535.5,346.8 L1539.5,347.8 L1543.5,345.6 L1547.6,345.2 L1551.6,347.1 L1555.6,347.2 L1559.7,345.6 L1563.7,345.7 L1567.7,349.6 L1571.8,347.4 L1575.8,345.6 L1579.8,347.9 L1583.8,349.6 L1587.9,347.4 L1591.9,347.2 L1595.9,349.0 L1600.0,349.7 L1604.0,347.5 L1608.1,347.4 L1612.2,350.2 L1616.3,350.3 L1620.4,347.3 L1624.6,348.1 L1628.7,350.4 L1632.8,350.9 L1636.9,348.7 L1641.0,348.1 L1645.1,350.9 L1649.2,350.9 L1653.3,349.5 L1657.4,349.5 L1661.6,351.5 L1665.7,351.5 L1669.8,349.4 L1673.9,349.5 L1678.0,352.4 L1682.1,351.7 L1686.2,350.7 L1690.3,351.2 L1694.4,352.9 L1698.6,352.5 L1702.7,350.2 L1706.8,350.9 L1710.9,353.5 L1715.0,353.0 L1719.0,350.6 L1723.1,351.9 L1727.1,354.8 L1731.1,353.2 L1735.2,351.4 L1739.2,353.5 L1743.2,354.8 L1747.2,352.2 L1751.3,352.9 L1755.3,354.8 L1759.3,355.5 L1763.4,353.1 L1767.4,353.7 L1771.4,356.0 L1775.5,355.5 L1779.5,353.9 L1783.5,354.6 L1787.5,358.1 L1791.6,355.1 L1795.6,353.6 L1799.6,355.3 L1803.7,357.9 L1807.7,355.6 L1811.7,354.4 L1815.8,356.6 L1819.8,357.2 L1823.8,355.7 L1827.8,356.1 L1831.9,358.0 L1835.9,356.7 L1839.9,356.3 L1844.0,357.2 L1848.0,360.1 L1852.0,358.1 L1856.1,357.3 L1860.1,360.1 L1864.2,362.0 L1868.2,360.9 L1872.3,360.8 L1876.3,363.0 L1880.4,364.5 L1884.4,363.7 L1888.5,364.6 L1892.5,367.2 L1896.5,367.3 L1900.6,366.3 L1904.6,367.6 L1908.7,371.1 L1912.7,369.1 L1916.8,369.4 L1920.8,371.1 L1924.9,374.7 L1928.9,372.2 L1933.0,372.0 L1937.0,375.3 L1941.0,374.4 L1945.1,370.0 L1949.1,369.1 L1953.2,368.8 L1957.2,367.4 L1961.3,363.6 L1965.3,362.3 L1969.4,363.1 L1973.4,360.9 L1977.5,357.1 L1981.5,357.0 L1985.5,357.9 L1989.6,353.6 L1993.6,351.3 L1997.7,350.9 L2001.7,351.0 L2005.8,346.4 L2009.8,344.0 L2013.9,345.0 L2017.9,343.8 L2022.0,339.7 L2026.0,337.8 L2030.0,339.7 L2034.0,338.1 L2038.0,336.5 L2042.0,337.0 L2046.0,338.5 L2050.0,335.9 L2054.0,334.0 L2058.0,334.8 L2062.0,335.5 L2066.0,332.6 L2070.0,331.4 L2074.0,334.0 L2078.0,332.1 L2082.0,329.4 L2086.0,330.5 L2090.0,332.7 L2094.0,328.9 L2098.0,327.3 L2102.0,329.0 L2106.0,329.1 L2110.0,326.5 L2114.0,325.9 L2118.0,327.7 L2122.0,326.6 L2126.0,323.5 L2130.0,325.0 L2134.0,327.7 L2138.0,323.7 L2142.0,322.5 L2146.0,324.6 L2150.0,324.6 L2154.0,322.0 L2158.0,322.0 L2162.0,323.9 L2166.0,323.0 L2170.0,320.8 L2174.0,320.7 L2178.0,323.9 L2182.0,320.0 L2186.0,319.6 L2190.0,321.2 L2194.0,322.0 L2198.0,318.3 L2202.0,318.2 L2206.0,321.1 L2210.0,319.7 L2214.0,316.6 L2218.0,317.6 L2222.0,319.9 L2226,320 L2226,517 L2070,526 L1892,530 L1715,525 L1604,521 L1471,508 L1338,499 L1214,486 Z" fill="#a09ac8"/><path d="M1214,517 L1338,526 L1471,539 L1604,544 L1715,552 L1892,548 L2070,544 L2226,535 L2226,697 L1214,697 Z" fill="#7973af"/><path d="M1214,600 C1260,605 1330,640 1385,697 L1214,697 Z" fill="#5a4c92" opacity="0.5"/></g><g filter="url(#soft)"><ellipse cx="1694.3" cy="194.2" rx="7.3" ry="4.8" fill="#a6a2cc" opacity="0.30"/><ellipse cx="1593.3" cy="172.6" rx="8.1" ry="6.8" fill="#a6a2cc" opacity="0.54"/><ellipse cx="1778.9" cy="191.5" rx="4.7" ry="3.6" fill="#a6a2cc" opacity="0.36"/><ellipse cx="2130.8" cy="123.3" rx="8.1" ry="5.1" fill="#a6a2cc" opacity="0.57"/><ellipse cx="1555.0" cy="184.4" rx="8.2" ry="5.0" fill="#a6a2cc" opacity="0.32"/><ellipse cx="2140.0" cy="156.1" rx="4.5" ry="4.2" fill="#a6a2cc" opacity="0.68"/><ellipse cx="1327.9" cy="191.5" rx="4.7" ry="3.3" fill="#a6a2cc" opacity="0.55"/><ellipse cx="1379.5" cy="209.9" rx="4.3" ry="2.8" fill="#a6a2cc" opacity="0.63"/><ellipse cx="1619.3" cy="181.2" rx="7.0" ry="5.4" fill="#a6a2cc" opacity="0.45"/><ellipse cx="1244.9" cy="209.8" rx="8.8" ry="8.3" fill="#a6a2cc" opacity="0.57"/><ellipse cx="1574.6" cy="180.2" rx="7.5" ry="6.2" fill="#a6a2cc" opacity="0.35"/><ellipse cx="1451.8" cy="186.9" rx="6.6" ry="5.8" fill="#a6a2cc" opacity="0.50"/><ellipse cx="1242.5" cy="215.7" rx="6.2" ry="4.8" fill="#a6a2cc" opacity="0.39"/><ellipse cx="1646.4" cy="177.2" rx="7.9" ry="5.0" fill="#a6a2cc" opacity="0.52"/><ellipse cx="1394.2" cy="209.6" rx="4.2" ry="2.9" fill="#a6a2cc" opacity="0.44"/><ellipse cx="1858.6" cy="138.9" rx="6.3" ry="4.2" fill="#a6a2cc" opacity="0.41"/><ellipse cx="1696.0" cy="216.8" rx="6.4" ry="6.0" fill="#a6a2cc" opacity="0.37"/><ellipse cx="2149.3" cy="144.2" rx="4.9" ry="4.3" fill="#a6a2cc" opacity="0.66"/><ellipse cx="1220.8" cy="181.4" rx="7.9" ry="5.7" fill="#a6a2cc" opacity="0.40"/><ellipse cx="1222.7" cy="167.4" rx="7.1" ry="6.7" fill="#a6a2cc" opacity="0.70"/><ellipse cx="1723.6" cy="144.3" rx="5.6" ry="4.9" fill="#a6a2cc" opacity="0.63"/><ellipse cx="1861.1" cy="153.5" rx="6.6" ry="5.1" fill="#a6a2cc" opacity="0.55"/><ellipse cx="1479.8" cy="224.3" rx="8.5" ry="5.6" fill="#a6a2cc" opacity="0.42"/><ellipse cx="2097.6" cy="142.7" rx="8.7" ry="6.8" fill="#a6a2cc" opacity="0.58"/><ellipse cx="1927.2" cy="148.3" rx="5.4" ry="3.7" fill="#a6a2cc" opacity="0.57"/><ellipse cx="1916.4" cy="142.2" rx="8.4" ry="6.3" fill="#a6a2cc" opacity="0.40"/><ellipse cx="1654.5" cy="220.2" rx="6.8" ry="5.6" fill="#a6a2cc" opacity="0.67"/><ellipse cx="2187.5" cy="170.7" rx="6.1" ry="4.9" fill="#a6a2cc" opacity="0.66"/><ellipse cx="2012.7" cy="171.8" rx="5.7" ry="4.2" fill="#a6a2cc" opacity="0.59"/><ellipse cx="1784.1" cy="140.3" rx="7.6" ry="6.9" fill="#a6a2cc" opacity="0.62"/><ellipse cx="2122.2" cy="188.0" rx="6.7" ry="5.8" fill="#a6a2cc" opacity="0.45"/><ellipse cx="1313.5" cy="186.9" rx="5.6" ry="5.2" fill="#a6a2cc" opacity="0.58"/><ellipse cx="1762.1" cy="188.9" rx="4.6" ry="3.6" fill="#a6a2cc" opacity="0.58"/><ellipse cx="1612.9" cy="169.1" rx="6.0" ry="4.3" fill="#a6a2cc" opacity="0.57"/><ellipse cx="1357.5" cy="169.8" rx="5.6" ry="4.7" fill="#a6a2cc" opacity="0.60"/><ellipse cx="1881.3" cy="211.6" rx="5.8" ry="3.6" fill="#a6a2cc" opacity="0.50"/><ellipse cx="1663.0" cy="160.6" rx="7.3" ry="5.3" fill="#a6a2cc" opacity="0.40"/><ellipse cx="1545.4" cy="222.4" rx="4.0" ry="2.9" fill="#a6a2cc" opacity="0.41"/><ellipse cx="1417.8" cy="191.9" rx="5.1" ry="4.7" fill="#a6a2cc" opacity="0.50"/><ellipse cx="1920.5" cy="144.5" rx="6.3" ry="5.1" fill="#a6a2cc" opacity="0.64"/><ellipse cx="1466.9" cy="192.9" rx="8.3" ry="7.4" fill="#a6a2cc" opacity="0.39"/><ellipse cx="1758.4" cy="199.9" rx="6.0" ry="5.0" fill="#a6a2cc" opacity="0.57"/><ellipse cx="2198.1" cy="153.6" rx="7.4" ry="5.3" fill="#a6a2cc" opacity="0.59"/><ellipse cx="1540.1" cy="191.9" rx="5.8" ry="4.1" fill="#a6a2cc" opacity="0.35"/><ellipse cx="1442.4" cy="198.8" rx="5.3" ry="3.2" fill="#a6a2cc" opacity="0.62"/><ellipse cx="1503.1" cy="223.0" rx="7.0" ry="5.1" fill="#a6a2cc" opacity="0.65"/><ellipse cx="2122.0" cy="144.0" rx="4.6" ry="3.8" fill="#a6a2cc" opacity="0.64"/><ellipse cx="1829.8" cy="200.1" rx="6.1" ry="4.9" fill="#a6a2cc" opacity="0.41"/><ellipse cx="1625.8" cy="177.9" rx="5.9" ry="4.4" fill="#a6a2cc" opacity="0.62"/><ellipse cx="1385.9" cy="177.2" rx="5.3" ry="5.0" fill="#a6a2cc" opacity="0.51"/><ellipse cx="1267.6" cy="217.0" rx="8.4" ry="7.4" fill="#a6a2cc" opacity="0.44"/><ellipse cx="1957.5" cy="153.8" rx="4.7" ry="4.2" fill="#a6a2cc" opacity="0.63"/><ellipse cx="1427.7" cy="221.1" rx="4.1" ry="2.9" fill="#a6a2cc" opacity="0.31"/><ellipse cx="1387.1" cy="174.5" rx="7.6" ry="5.3" fill="#a6a2cc" opacity="0.38"/><ellipse cx="1400.3" cy="184.2" rx="8.3" ry="6.8" fill="#a6a2cc" opacity="0.34"/><ellipse cx="1907.2" cy="176.6" rx="6.2" ry="4.9" fill="#a6a2cc" opacity="0.56"/><ellipse cx="2024.3" cy="165.0" rx="7.2" ry="5.5" fill="#a6a2cc" opacity="0.55"/><ellipse cx="1607.1" cy="181.7" rx="6.6" ry="5.6" fill="#a6a2cc" opacity="0.41"/><ellipse cx="2150.0" cy="153.8" rx="8.3" ry="7.0" fill="#a6a2cc" opacity="0.68"/><ellipse cx="1904.6" cy="167.7" rx="6.0" ry="4.9" fill="#a6a2cc" opacity="0.60"/><ellipse cx="2063.1" cy="133.4" rx="4.3" ry="2.8" fill="#a6a2cc" opacity="0.33"/><ellipse cx="1271.1" cy="165.1" rx="5.2" ry="3.4" fill="#a6a2cc" opacity="0.57"/><ellipse cx="1837.2" cy="214.8" rx="8.8" ry="7.6" fill="#a6a2cc" opacity="0.68"/><ellipse cx="1242.4" cy="178.9" rx="8.6" ry="6.6" fill="#a6a2cc" opacity="0.38"/><ellipse cx="1979.9" cy="161.8" rx="6.7" ry="4.8" fill="#a6a2cc" opacity="0.40"/><ellipse cx="1302.2" cy="203.0" rx="8.8" ry="8.3" fill="#a6a2cc" opacity="0.61"/><ellipse cx="2158.6" cy="143.0" rx="5.5" ry="5.1" fill="#a6a2cc" opacity="0.54"/><ellipse cx="1891.1" cy="133.7" rx="5.1" ry="4.0" fill="#a6a2cc" opacity="0.59"/><ellipse cx="2049.7" cy="182.4" rx="5.7" ry="4.2" fill="#a6a2cc" opacity="0.64"/><ellipse cx="2215.4" cy="146.4" rx="5.0" ry="4.1" fill="#a6a2cc" opacity="0.51"/><ellipse cx="1580.0" cy="170.4" rx="5.9" ry="4.8" fill="#a6a2cc" opacity="0.35"/><ellipse cx="1761.4" cy="214.7" rx="7.7" ry="5.3" fill="#a6a2cc" opacity="0.47"/><ellipse cx="1317.6" cy="211.6" rx="7.2" ry="4.7" fill="#a6a2cc" opacity="0.52"/><ellipse cx="1817.0" cy="183.7" rx="5.9" ry="4.2" fill="#a6a2cc" opacity="0.44"/><ellipse cx="2223.5" cy="133.4" rx="6.5" ry="5.0" fill="#a6a2cc" opacity="0.37"/><ellipse cx="1618.6" cy="165.8" rx="5.6" ry="4.1" fill="#a6a2cc" opacity="0.44"/><ellipse cx="2163.2" cy="137.5" rx="5.7" ry="4.7" fill="#a6a2cc" opacity="0.46"/><ellipse cx="1735.9" cy="191.6" rx="4.4" ry="3.6" fill="#a6a2cc" opacity="0.34"/><ellipse cx="1467.2" cy="215.7" rx="8.9" ry="7.5" fill="#a6a2cc" opacity="0.37"/><ellipse cx="1657.5" cy="168.6" rx="8.2" ry="5.6" fill="#a6a2cc" opacity="0.38"/><ellipse cx="1859.7" cy="187.3" rx="6.9" ry="5.3" fill="#a6a2cc" opacity="0.68"/><ellipse cx="1677.9" cy="216.0" rx="6.0" ry="4.5" fill="#a6a2cc" opacity="0.44"/><ellipse cx="1937.7" cy="191.9" rx="5.2" ry="4.1" fill="#a6a2cc" opacity="0.59"/><ellipse cx="1721.6" cy="193.2" rx="7.1" ry="6.0" fill="#a6a2cc" opacity="0.44"/><ellipse cx="1524.3" cy="160.3" rx="8.5" ry="7.4" fill="#a6a2cc" opacity="0.46"/><ellipse cx="2192.8" cy="181.2" rx="4.8" ry="4.2" fill="#a6a2cc" opacity="0.47"/><ellipse cx="1532.0" cy="175.8" rx="6.1" ry="3.8" fill="#a6a2cc" opacity="0.32"/><ellipse cx="1332.3" cy="184.0" rx="4.8" ry="3.1" fill="#a6a2cc" opacity="0.63"/><ellipse cx="1598.2" cy="187.7" rx="7.0" ry="6.5" fill="#a6a2cc" opacity="0.36"/><ellipse cx="1444.8" cy="219.5" rx="8.5" ry="7.9" fill="#a6a2cc" opacity="0.51"/><ellipse cx="1585.5" cy="167.1" rx="8.6" ry="7.4" fill="#a6a2cc" opacity="0.52"/><ellipse cx="2014.9" cy="146.5" rx="6.7" ry="6.1" fill="#a6a2cc" opacity="0.34"/><ellipse cx="1838.8" cy="150.9" rx="8.2" ry="7.3" fill="#a6a2cc" opacity="0.56"/><ellipse cx="1655.2" cy="149.5" rx="6.5" ry="4.7" fill="#a6a2cc" opacity="0.46"/><ellipse cx="1292.6" cy="222.8" rx="6.6" ry="5.3" fill="#a6a2cc" opacity="0.64"/><ellipse cx="2121.1" cy="161.1" rx="6.7" ry="6.0" fill="#a6a2cc" opacity="0.45"/><ellipse cx="2125.2" cy="121.4" rx="8.0" ry="6.3" fill="#a6a2cc" opacity="0.55"/><ellipse cx="2216.3" cy="125.5" rx="6.0" ry="5.3" fill="#a6a2cc" opacity="0.60"/><ellipse cx="1744.5" cy="201.4" rx="7.4" ry="6.7" fill="#a6a2cc" opacity="0.56"/><ellipse cx="1581.6" cy="174.3" rx="4.4" ry="2.8" fill="#a6a2cc" opacity="0.32"/><ellipse cx="2201.3" cy="121.1" rx="7.0" ry="4.5" fill="#a6a2cc" opacity="0.69"/><ellipse cx="1753.1" cy="154.5" rx="8.1" ry="7.3" fill="#a6a2cc" opacity="0.69"/><ellipse cx="1440.0" cy="189.6" rx="7.3" ry="5.1" fill="#a6a2cc" opacity="0.53"/><ellipse cx="1923.5" cy="193.2" rx="8.1" ry="7.0" fill="#a6a2cc" opacity="0.41"/><ellipse cx="1978.6" cy="162.7" rx="4.8" ry="2.9" fill="#a6a2cc" opacity="0.55"/><ellipse cx="1576.2" cy="161.0" rx="6.5" ry="4.8" fill="#a6a2cc" opacity="0.43"/><ellipse cx="1787.0" cy="181.6" rx="6.6" ry="6.3" fill="#a6a2cc" opacity="0.66"/><ellipse cx="1516.3" cy="218.3" rx="5.6" ry="5.2" fill="#a6a2cc" opacity="0.32"/><ellipse cx="1535.9" cy="221.9" rx="7.3" ry="6.2" fill="#a6a2cc" opacity="0.38"/><ellipse cx="1337.1" cy="226.3" rx="4.3" ry="2.9" fill="#a6a2cc" opacity="0.47"/><ellipse cx="2043.0" cy="177.0" rx="9.0" ry="7.8" fill="#a6a2cc" opacity="0.47"/><ellipse cx="2136.4" cy="142.0" rx="4.3" ry="4.0" fill="#a6a2cc" opacity="0.65"/><ellipse cx="1882.2" cy="173.5" rx="5.0" ry="3.4" fill="#a6a2cc" opacity="0.33"/><ellipse cx="1309.1" cy="194.9" rx="8.5" ry="7.9" fill="#a6a2cc" opacity="0.51"/><ellipse cx="1895.6" cy="171.8" rx="7.9" ry="6.7" fill="#a6a2cc" opacity="0.69"/><ellipse cx="2069.8" cy="174.6" rx="7.0" ry="4.6" fill="#a6a2cc" opacity="0.49"/><ellipse cx="1667.0" cy="158.4" rx="5.0" ry="3.7" fill="#a6a2cc" opacity="0.37"/><ellipse cx="1845.7" cy="162.3" rx="8.9" ry="7.5" fill="#a6a2cc" opacity="0.51"/><ellipse cx="1653.1" cy="176.9" rx="5.0" ry="4.7" fill="#a6a2cc" opacity="0.67"/><ellipse cx="1871.9" cy="188.0" rx="4.7" ry="3.7" fill="#a6a2cc" opacity="0.37"/></g><path d="M1214.0,484.0 L1218.0,486.3 L1222.0,484.7 L1226.0,484.4 L1230.0,487.5 L1234.0,485.4 L1238.0,486.3 L1242.0,488.4 L1246.0,487.2 L1250.0,487.7 L1254.0,490.0 L1258.0,488.5 L1262.0,489.0 L1266.0,491.5 L1270.0,489.1 L1274.0,489.2 L1278.0,492.4 L1282.0,491.0 L1286.0,490.8 L1290.0,493.6 L1294.0,492.2 L1298.0,491.9 L1302.0,495.5 L1306.0,493.3 L1310.0,494.1 L1314.0,496.2 L1318.0,494.3 L1322.0,494.2 L1326.0,497.8 L1330.0,496.0 L1334.0,496.3 L1338.0,499.3 L1342.0,496.2 L1346.1,497.3 L1350.1,500.2 L1354.1,497.8 L1358.2,498.2 L1362.2,500.4 L1366.2,498.3 L1370.2,498.2 L1374.3,501.4 L1378.3,499.8 L1382.3,499.2 L1386.4,501.5 L1390.4,500.4 L1394.4,499.9 L1398.5,501.9 L1402.5,501.7 L1406.5,501.0 L1410.5,503.1 L1414.6,502.1 L1418.6,501.0 L1422.6,503.7 L1426.7,502.9 L1430.7,502.4 L1434.7,504.1 L1438.8,503.6 L1442.8,503.4 L1446.8,505.6 L1450.8,505.2 L1454.9,504.1 L1458.9,505.3 L1462.9,506.2 L1467.0,504.6 L1471.0,506.3 L1475.0,506.4 L1479.1,506.2 L1483.1,507.2 L1487.1,508.4 L1491.2,507.5 L1495.2,508.5 L1499.2,509.1 L1503.2,508.1 L1507.3,510.2 L1511.3,510.3 L1515.3,509.5 L1519.4,510.6 L1523.4,511.9 L1527.4,510.9 L1531.5,511.9 L1535.5,513.7 L1539.5,512.3 L1543.5,513.4 L1547.6,514.6 L1551.6,513.1 L1555.6,513.6 L1559.7,516.7 L1563.7,514.5 L1567.7,515.5 L1571.8,516.9 L1575.8,515.1 L1579.8,515.7 L1583.8,518.8 L1587.9,517.2 L1591.9,517.4 L1595.9,520.4 L1600.0,518.6 L1604.0,518.3 L1608.1,521.2 L1612.2,519.4 L1616.3,518.6 L1620.4,520.4 L1624.6,519.1 L1628.7,519.0 L1632.8,521.3 L1636.9,520.2 L1641.0,519.8 L1645.1,520.8 L1649.2,521.9 L1653.3,519.2 L1657.4,520.8 L1661.6,522.5 L1665.7,520.7 L1669.8,520.9 L1673.9,522.8 L1678.0,521.2 L1682.1,521.5 L1686.2,523.6 L1690.3,521.3 L1694.4,521.5 L1698.6,523.4 L1702.7,522.1 L1706.8,521.9 L1710.9,523.1 L1715.0,523.5 L1719.0,522.5 L1723.0,524.2 L1727.1,523.4 L1731.1,522.5 L1735.1,524.0 L1739.1,523.9 L1743.2,522.7 L1747.2,524.2 L1751.2,525.1 L1755.2,522.9 L1759.2,524.7 L1763.3,525.3 L1767.3,523.2 L1771.3,524.6 L1775.3,526.1 L1779.4,524.2 L1783.4,524.7 L1787.4,525.9 L1791.4,524.7 L1795.5,524.6 L1799.5,527.0 L1803.5,525.0 L1807.5,526.0 L1811.5,527.1 L1815.6,524.8 L1819.6,525.3 L1823.6,527.9 L1827.6,525.1 L1831.7,526.5 L1835.7,527.8 L1839.7,526.0 L1843.7,526.5 L1847.8,528.9 L1851.8,525.8 L1855.8,527.0 L1859.8,528.5 L1863.8,526.7 L1867.9,526.7 L1871.9,529.1 L1875.9,526.9 L1879.9,526.7 L1884.0,529.2 L1888.0,527.5 L1892.0,527.6 L1896.0,529.4 L1900.1,527.7 L1904.1,527.1 L1908.2,529.5 L1912.2,526.6 L1916.3,527.1 L1920.3,528.7 L1924.4,526.7 L1928.4,526.1 L1932.5,529.0 L1936.5,526.3 L1940.5,526.2 L1944.6,527.5 L1948.6,526.6 L1952.7,525.8 L1956.7,527.0 L1960.8,526.4 L1964.8,525.6 L1968.9,526.7 L1972.9,526.6 L1977.0,524.8 L1981.0,526.4 L1985.0,526.1 L1989.1,525.2 L1993.1,526.1 L1997.2,527.0 L2001.2,524.2 L2005.3,525.3 L2009.3,525.9 L2013.4,524.9 L2017.4,525.1 L2021.5,526.3 L2025.5,524.6 L2029.5,525.1 L2033.6,525.6 L2037.6,523.5 L2041.7,524.6 L2045.7,525.7 L2049.8,523.5 L2053.8,524.1 L2057.9,525.9 L2061.9,523.8 L2066.0,523.8 L2070.0,526.6 L2074.0,523.0 L2078.0,522.8 L2082.0,525.0 L2086.0,522.5 L2090.0,522.3 L2094.0,524.8 L2098.0,521.5 L2102.0,521.7 L2106.0,523.8 L2110.0,520.8 L2114.0,520.9 L2118.0,523.0 L2122.0,520.9 L2126.0,520.5 L2130.0,522.1 L2134.0,520.1 L2138.0,520.0 L2142.0,522.4 L2146.0,518.7 L2150.0,519.3 L2154.0,521.2 L2158.0,518.4 L2162.0,517.7 L2166.0,520.5 L2170.0,517.6 L2174.0,518.0 L2178.0,519.4 L2182.0,516.6 L2186.0,516.6 L2190.0,518.7 L2194.0,516.1 L2198.0,515.8 L2202.0,518.0 L2206.0,515.4 L2210.0,515.9 L2214.0,517.2 L2218.0,514.3 L2222.0,515.0 L2226,517 L2226,535 L2222.0,535.1 L2218.0,538.6 L2214.0,540.1 L2210.0,538.4 L2206.0,537.6 L2202.0,540.4 L2198.0,540.7 L2194.0,537.7 L2190.0,538.7 L2186.0,541.3 L2182.0,540.8 L2178.0,537.4 L2174.0,540.5 L2170.0,541.9 L2166.0,540.2 L2162.0,539.5 L2158.0,542.9 L2154.0,543.2 L2150.0,541.0 L2146.0,542.1 L2142.0,544.4 L2138.0,542.6 L2134.0,539.8 L2130.0,543.3 L2126.0,544.5 L2122.0,543.7 L2118.0,542.0 L2114.0,544.6 L2110.0,544.8 L2106.0,543.0 L2102.0,544.0 L2098.0,546.7 L2094.0,546.2 L2090.0,542.5 L2086.0,545.6 L2082.0,547.3 L2078.0,545.4 L2074.0,544.9 L2070.0,547.1 L2066.0,548.3 L2061.9,545.1 L2057.9,546.3 L2053.8,548.0 L2049.8,547.6 L2045.7,545.5 L2041.7,547.6 L2037.6,548.7 L2033.6,547.8 L2029.5,545.0 L2025.5,547.7 L2021.5,549.3 L2017.4,547.9 L2013.4,545.5 L2009.3,548.6 L2005.3,549.2 L2001.2,547.4 L1997.2,547.1 L1993.1,549.6 L1989.1,549.1 L1985.0,546.8 L1981.0,548.7 L1977.0,549.9 L1972.9,548.9 L1968.9,546.3 L1964.8,549.0 L1960.8,550.7 L1956.7,549.5 L1952.7,546.6 L1948.6,550.5 L1944.6,551.2 L1940.5,548.9 L1936.5,548.7 L1932.5,551.2 L1928.4,551.2 L1924.4,548.5 L1920.3,549.6 L1916.3,550.8 L1912.2,551.1 L1908.2,548.1 L1904.1,550.1 L1900.1,551.4 L1896.0,551.3 L1892.0,548.1 L1888.0,551.5 L1884.0,552.6 L1879.9,550.6 L1875.9,549.5 L1871.9,551.8 L1867.9,551.9 L1863.8,550.1 L1859.8,550.0 L1855.8,552.9 L1851.8,552.0 L1847.8,549.7 L1843.7,551.2 L1839.7,552.7 L1835.7,552.5 L1831.7,550.0 L1827.6,552.2 L1823.6,552.9 L1819.6,551.9 L1815.6,550.9 L1811.5,553.1 L1807.5,553.6 L1803.5,551.3 L1799.5,552.0 L1795.5,553.9 L1791.4,553.9 L1787.4,550.5 L1783.4,552.9 L1779.4,554.4 L1775.3,553.0 L1771.3,551.6 L1767.3,554.4 L1763.3,554.7 L1759.2,552.7 L1755.2,553.1 L1751.2,555.0 L1747.2,554.5 L1743.2,552.1 L1739.1,554.3 L1735.1,555.3 L1731.1,554.3 L1727.1,551.6 L1723.0,554.4 L1719.0,556.3 L1715.0,554.1 L1710.9,552.8 L1706.8,554.6 L1702.7,555.4 L1698.6,552.4 L1694.4,551.5 L1690.3,553.9 L1686.2,553.4 L1682.1,551.4 L1678.0,550.0 L1673.9,553.1 L1669.8,552.4 L1665.7,549.8 L1661.6,549.1 L1657.4,552.0 L1653.3,551.1 L1649.2,548.5 L1645.1,548.1 L1641.0,550.0 L1636.9,550.3 L1632.8,547.2 L1628.7,547.2 L1624.6,548.9 L1620.4,548.5 L1616.3,546.3 L1612.2,546.2 L1608.1,548.0 L1604.0,547.1 L1600.0,545.2 L1595.9,546.2 L1591.9,547.6 L1587.9,546.1 L1583.8,543.6 L1579.8,545.4 L1575.8,547.2 L1571.8,545.2 L1567.7,543.5 L1563.7,546.2 L1559.7,546.0 L1555.6,544.0 L1551.6,543.7 L1547.6,545.1 L1543.5,545.4 L1539.5,542.9 L1535.5,543.2 L1531.5,545.3 L1527.4,543.7 L1523.4,541.6 L1519.4,543.4 L1515.3,544.3 L1511.3,543.4 L1507.3,540.9 L1503.2,543.5 L1499.2,543.5 L1495.2,541.8 L1491.2,541.3 L1487.1,543.9 L1483.1,542.9 L1479.1,540.7 L1475.0,541.3 L1471.0,543.3 L1467.0,541.8 L1462.9,537.8 L1458.9,540.1 L1454.9,541.0 L1450.8,539.0 L1446.8,537.9 L1442.8,539.4 L1438.8,540.1 L1434.7,537.7 L1430.7,536.7 L1426.7,537.9 L1422.6,537.3 L1418.6,534.7 L1414.6,535.4 L1410.5,536.5 L1406.5,535.4 L1402.5,531.9 L1398.5,534.7 L1394.4,535.6 L1390.4,533.0 L1386.4,531.4 L1382.3,534.2 L1378.3,533.8 L1374.3,530.8 L1370.2,531.1 L1366.2,532.8 L1362.2,531.5 L1358.2,528.6 L1354.1,529.6 L1350.1,531.1 L1346.1,530.0 L1342.0,526.9 L1338.0,529.2 L1334.0,529.9 L1330.0,527.5 L1326.0,526.6 L1322.0,529.0 L1318.0,528.6 L1314.0,525.7 L1310.0,526.3 L1306.0,528.1 L1302.0,526.6 L1298.0,523.4 L1294.0,525.8 L1290.0,525.9 L1286.0,524.3 L1282.0,523.0 L1278.0,525.2 L1274.0,524.7 L1270.0,522.4 L1266.0,523.4 L1262.0,525.0 L1258.0,522.8 L1254.0,519.8 L1250.0,522.9 L1246.0,523.0 L1242.0,521.1 L1238.0,519.3 L1234.0,521.8 L1230.0,521.3 L1226.0,518.8 L1222.0,519.3 L1218.0,521.1 L1214.0,519.5 Z" fill="#fffaf4" filter="url(#soft)"/><polyline points="1214,322 1250,330 1338,336 1471,340 1604,345 1715,349 1848,354 1937,371 2026,336 2114,323 2226,314" fill="none" stroke="#eeae70" stroke-width="16" opacity="0.40" filter="url(#soft4)"/><polyline points="1214,170 1471,168 1715,148 1937,135 2114,126 2226,112" fill="none" stroke="#fbf9fa" stroke-width="26" opacity="0.75" filter="url(#soft4)"/><rect x="1214" y="80" width="14" height="620" fill="#fff" opacity="0"/><path d="M1862,88 L2125,86" stroke="#e6e0e8" stroke-width="7" opacity="0.8" filter="url(#soft)"/></g><path d="M405,86 L495,88" stroke="#c8cadc" stroke-width="6" opacity="0.5" filter="url(#soft)"/><circle cx="2162" cy="84" r="44" fill="#fff"/><rect x="2013" y="604" width="204" height="93" fill="#fff"/><rect x="2043" y="682" width="132" height="8" fill="#151515"/><g clip-path="url(#clipC)"><g filter="url(#tex)"><path d="M2265,82 L2268,72 L2280,68 L2403,68 L2465,95 L2567,105 L2670,122 L2760,150 L2796,160 L2939,167 L3011,176 L3130,193 L3249,183 L3249,241 L3178,243 L3058,231 L2939,222 L2819,214 L2700,186 L2670,181 L2588,173 L2506,165 L2424,142 L2362,101 L2265,84 Z" fill="#d6d3e6"/><path d="M2265,84 L2362,101 L2424,142 L2506,165 L2588,173 L2670,181 L2700,186 L2819,214 L2939,222 L3058,231 L3178,243 L3249,241 L3249,348 L3154,370 L3058,351 L2939,332 L2819,316 L2700,304 L2670,301 L2588,296 L2506,283 L2403,262 L2342,252 L2265,253 Z" fill="#ebac74"/><path d="M2265.0,249.3 L2269.1,248.3 L2273.1,249.1 L2277.2,250.9 L2281.2,248.8 L2285.3,248.2 L2289.3,249.1 L2293.4,250.7 L2297.4,248.4 L2301.5,247.0 L2305.5,248.8 L2309.6,249.3 L2313.6,247.4 L2317.7,247.4 L2321.7,249.3 L2325.8,249.2 L2329.8,247.5 L2333.9,247.3 L2337.9,248.9 L2342.0,248.0 L2346.1,248.0 L2350.1,249.3 L2354.2,252.2 L2358.3,250.6 L2362.3,250.7 L2366.4,252.4 L2370.5,254.8 L2374.5,253.4 L2378.6,253.4 L2382.7,254.6 L2386.7,256.8 L2390.8,255.8 L2394.9,255.5 L2398.9,258.2 L2403.0,258.6 L2407.1,258.7 L2411.2,258.7 L2415.4,260.9 L2419.5,262.2 L2423.6,261.6 L2427.7,261.7 L2431.8,264.3 L2436.0,265.6 L2440.1,265.4 L2444.2,265.9 L2448.3,267.9 L2452.4,269.1 L2456.6,268.7 L2460.7,268.6 L2464.8,271.5 L2468.9,272.5 L2473.0,271.6 L2477.2,271.9 L2481.3,274.9 L2485.4,275.7 L2489.5,274.8 L2493.6,275.5 L2497.8,278.3 L2501.9,279.4 L2506.0,278.3 L2510.1,278.7 L2514.2,281.0 L2518.3,282.2 L2522.4,280.9 L2526.5,281.4 L2530.6,284.3 L2534.7,284.7 L2538.8,282.8 L2542.9,284.8 L2547.0,286.7 L2551.1,286.9 L2555.2,286.5 L2559.3,287.2 L2563.4,289.8 L2567.5,289.2 L2571.6,288.0 L2575.7,290.1 L2579.8,292.4 L2583.9,291.4 L2588.0,290.9 L2592.1,292.4 L2596.2,294.5 L2600.3,293.1 L2604.4,291.5 L2608.5,293.1 L2612.6,295.6 L2616.7,293.7 L2620.8,293.0 L2624.9,294.5 L2629.0,296.3 L2633.1,294.3 L2637.2,294.0 L2641.3,295.2 L2645.4,297.0 L2649.5,294.9 L2653.6,294.9 L2657.7,296.9 L2661.8,298.2 L2665.9,296.2 L2670.0,296.2 L2674.3,297.2 L2678.6,299.9 L2682.9,298.3 L2687.1,297.7 L2691.4,298.3 L2695.7,299.9 L2700.0,300.9 L2704.1,299.5 L2708.2,299.7 L2712.3,302.2 L2716.4,302.5 L2720.5,301.2 L2724.6,302.2 L2728.7,303.4 L2732.8,304.5 L2736.9,303.0 L2741.0,303.4 L2745.1,305.2 L2749.2,305.4 L2753.3,304.6 L2757.4,304.6 L2761.6,307.3 L2765.7,307.1 L2769.8,305.6 L2773.9,307.0 L2778.0,308.8 L2782.1,308.2 L2786.2,308.3 L2790.3,308.2 L2794.4,310.7 L2798.5,310.2 L2802.6,309.1 L2806.7,309.9 L2810.8,313.1 L2814.9,311.8 L2819.0,310.9 L2823.0,312.0 L2827.0,314.5 L2831.0,313.0 L2835.0,312.8 L2839.0,315.6 L2843.0,316.4 L2847.0,314.5 L2851.0,315.0 L2855.0,317.6 L2859.0,317.9 L2863.0,316.6 L2867.0,318.1 L2871.0,320.7 L2875.0,319.0 L2879.0,318.6 L2883.0,320.7 L2887.0,321.7 L2891.0,320.9 L2895.0,321.4 L2899.0,323.6 L2903.0,323.5 L2907.0,323.3 L2911.0,323.4 L2915.0,327.0 L2919.0,325.1 L2923.0,325.4 L2927.0,327.1 L2931.0,327.6 L2935.0,327.0 L2939.0,327.5 L2943.1,329.3 L2947.2,330.3 L2951.3,328.9 L2955.4,329.9 L2959.5,331.9 L2963.6,332.5 L2967.7,331.9 L2971.8,332.9 L2975.9,335.3 L2980.0,335.6 L2984.1,334.7 L2988.2,335.8 L2992.3,338.2 L2996.4,337.2 L3000.6,336.3 L3004.7,338.2 L3008.8,341.0 L3012.9,340.2 L3017.0,339.3 L3021.1,340.8 L3025.2,343.9 L3029.3,342.5 L3033.4,342.4 L3037.5,343.9 L3041.6,345.9 L3045.7,345.5 L3049.8,344.8 L3053.9,345.9 L3058.0,348.9 L3062.0,347.1 L3066.0,347.8 L3070.0,349.2 L3074.0,351.9 L3078.0,349.8 L3082.0,351.1 L3086.0,354.3 L3090.0,354.0 L3094.0,352.6 L3098.0,354.4 L3102.0,357.4 L3106.0,355.9 L3110.0,356.9 L3114.0,358.7 L3118.0,360.1 L3122.0,358.4 L3126.0,359.2 L3130.0,362.8 L3134.0,361.8 L3138.0,361.8 L3142.0,363.6 L3146.0,366.9 L3150.0,365.0 L3154.0,365.0 L3158.1,365.3 L3162.3,365.9 L3166.4,362.2 L3170.5,361.2 L3174.7,361.6 L3178.8,361.6 L3182.9,359.2 L3187.0,357.5 L3191.2,358.0 L3195.3,358.4 L3199.4,354.5 L3203.6,353.4 L3207.7,353.6 L3211.8,354.1 L3216.0,351.1 L3220.1,349.7 L3224.2,350.0 L3228.3,350.9 L3232.5,348.1 L3236.6,346.3 L3240.7,346.1 L3244.9,347.3 L3249,346 L3249,496 L3142,498 L3004,484 L2867,475 L2750,478 L2667,475 L2529,466 L2392,457 L2265,452 Z" fill="#ada8d0"/><path d="M2265,457 L2392,462 L2529,471 L2667,480 L2750,486 L2867,484 L3004,503 L3142,507 L3249,507 L3249,603 L3142,599 L3004,585 L2867,571 L2750,558 L2667,562 L2529,562 L2392,553 L2265,548 Z" fill="#726aa7"/></g><g filter="url(#soft)"><ellipse cx="2568.0" cy="149.2" rx="8.4" ry="7.6" fill="#9490c6" opacity="0.42"/><ellipse cx="2541.9" cy="114.4" rx="6.1" ry="5.2" fill="#9490c6" opacity="0.40"/><ellipse cx="2818.3" cy="174.1" rx="6.5" ry="4.9" fill="#9490c6" opacity="0.69"/><ellipse cx="2889.1" cy="168.3" rx="6.4" ry="4.2" fill="#9490c6" opacity="0.70"/><ellipse cx="3074.2" cy="221.5" rx="9.1" ry="7.9" fill="#9490c6" opacity="0.73"/><ellipse cx="3059.5" cy="196.8" rx="9.2" ry="7.1" fill="#9490c6" opacity="0.65"/><ellipse cx="2848.4" cy="185.9" rx="6.8" ry="5.1" fill="#9490c6" opacity="0.48"/><ellipse cx="2437.9" cy="132.7" rx="9.0" ry="8.5" fill="#9490c6" opacity="0.63"/><ellipse cx="2839.3" cy="200.5" rx="5.7" ry="4.7" fill="#9490c6" opacity="0.53"/><ellipse cx="2492.3" cy="112.3" rx="7.6" ry="5.2" fill="#9490c6" opacity="0.53"/><ellipse cx="2886.5" cy="186.5" rx="5.7" ry="4.4" fill="#9490c6" opacity="0.44"/><ellipse cx="2546.6" cy="117.7" rx="6.8" ry="4.3" fill="#9490c6" opacity="0.61"/><ellipse cx="3206.4" cy="208.9" rx="8.6" ry="8.0" fill="#9490c6" opacity="0.37"/><ellipse cx="2460.3" cy="138.8" rx="9.2" ry="7.6" fill="#9490c6" opacity="0.41"/><ellipse cx="2710.0" cy="179.0" rx="9.4" ry="8.3" fill="#9490c6" opacity="0.43"/><ellipse cx="3114.5" cy="208.7" rx="8.6" ry="5.6" fill="#9490c6" opacity="0.74"/><ellipse cx="2884.6" cy="202.1" rx="6.1" ry="4.9" fill="#9490c6" opacity="0.58"/><ellipse cx="2873.3" cy="184.0" rx="8.6" ry="6.2" fill="#9490c6" opacity="0.47"/><ellipse cx="2481.2" cy="137.5" rx="5.6" ry="3.8" fill="#9490c6" opacity="0.38"/><ellipse cx="2921.4" cy="196.2" rx="7.7" ry="4.7" fill="#9490c6" opacity="0.53"/><ellipse cx="2645.3" cy="126.0" rx="5.0" ry="4.8" fill="#9490c6" opacity="0.40"/><ellipse cx="2607.1" cy="130.0" rx="8.0" ry="5.0" fill="#9490c6" opacity="0.54"/><ellipse cx="2667.0" cy="168.9" rx="5.0" ry="3.6" fill="#9490c6" opacity="0.55"/><ellipse cx="3221.2" cy="214.4" rx="7.4" ry="6.1" fill="#9490c6" opacity="0.47"/><ellipse cx="2359.2" cy="84.3" rx="9.6" ry="8.2" fill="#9490c6" opacity="0.45"/><ellipse cx="2958.6" cy="213.2" rx="6.3" ry="5.1" fill="#9490c6" opacity="0.49"/><ellipse cx="2554.5" cy="124.0" rx="6.0" ry="4.4" fill="#9490c6" opacity="0.37"/><ellipse cx="2695.4" cy="137.2" rx="8.8" ry="7.1" fill="#9490c6" opacity="0.35"/><ellipse cx="3041.2" cy="191.6" rx="7.4" ry="5.9" fill="#9490c6" opacity="0.48"/><ellipse cx="2596.0" cy="138.0" rx="5.7" ry="5.1" fill="#9490c6" opacity="0.39"/><ellipse cx="3086.8" cy="198.8" rx="6.5" ry="4.8" fill="#9490c6" opacity="0.36"/><ellipse cx="2447.9" cy="110.5" rx="7.2" ry="6.5" fill="#9490c6" opacity="0.75"/><ellipse cx="2370.0" cy="88.3" rx="5.6" ry="5.0" fill="#9490c6" opacity="0.48"/><ellipse cx="3150.6" cy="217.7" rx="5.6" ry="3.4" fill="#9490c6" opacity="0.45"/><ellipse cx="3127.7" cy="201.6" rx="7.4" ry="5.4" fill="#9490c6" opacity="0.49"/><ellipse cx="3066.8" cy="195.9" rx="8.6" ry="7.2" fill="#9490c6" opacity="0.72"/><ellipse cx="2807.8" cy="204.8" rx="7.2" ry="5.8" fill="#9490c6" opacity="0.60"/><ellipse cx="3101.6" cy="228.2" rx="5.6" ry="3.6" fill="#9490c6" opacity="0.56"/><ellipse cx="3076.6" cy="210.5" rx="6.5" ry="6.1" fill="#9490c6" opacity="0.47"/><ellipse cx="2409.8" cy="76.9" rx="5.2" ry="4.4" fill="#9490c6" opacity="0.39"/><ellipse cx="2988.1" cy="216.5" rx="10.0" ry="8.8" fill="#9490c6" opacity="0.52"/><ellipse cx="2901.7" cy="208.5" rx="8.6" ry="6.0" fill="#9490c6" opacity="0.65"/><ellipse cx="2430.6" cy="100.8" rx="10.0" ry="7.6" fill="#9490c6" opacity="0.46"/><ellipse cx="3051.3" cy="204.0" rx="5.0" ry="3.1" fill="#9490c6" opacity="0.45"/><ellipse cx="2635.1" cy="171.1" rx="6.2" ry="5.6" fill="#9490c6" opacity="0.69"/><ellipse cx="2712.4" cy="185.6" rx="8.8" ry="6.8" fill="#9490c6" opacity="0.45"/><ellipse cx="2753.7" cy="191.3" rx="7.7" ry="5.1" fill="#9490c6" opacity="0.50"/><ellipse cx="2767.5" cy="163.4" rx="7.9" ry="4.8" fill="#9490c6" opacity="0.68"/><ellipse cx="2494.2" cy="106.8" rx="7.9" ry="5.6" fill="#9490c6" opacity="0.70"/><ellipse cx="2786.7" cy="182.8" rx="9.2" ry="6.2" fill="#9490c6" opacity="0.65"/><ellipse cx="2926.5" cy="190.3" rx="9.8" ry="6.0" fill="#9490c6" opacity="0.69"/><ellipse cx="2461.8" cy="141.1" rx="5.8" ry="3.6" fill="#9490c6" opacity="0.55"/><ellipse cx="3180.9" cy="204.1" rx="7.4" ry="6.0" fill="#9490c6" opacity="0.45"/><ellipse cx="2817.4" cy="164.5" rx="7.2" ry="6.3" fill="#9490c6" opacity="0.49"/><ellipse cx="2532.6" cy="107.7" rx="8.5" ry="6.4" fill="#9490c6" opacity="0.72"/><ellipse cx="3010.6" cy="183.5" rx="9.6" ry="8.9" fill="#9490c6" opacity="0.68"/><ellipse cx="3094.0" cy="218.6" rx="8.6" ry="7.2" fill="#9490c6" opacity="0.59"/><ellipse cx="2566.4" cy="115.9" rx="8.6" ry="7.0" fill="#9490c6" opacity="0.37"/><ellipse cx="2919.7" cy="198.7" rx="7.6" ry="6.6" fill="#9490c6" opacity="0.70"/><ellipse cx="2680.2" cy="170.2" rx="7.5" ry="6.0" fill="#9490c6" opacity="0.52"/><ellipse cx="3187.4" cy="212.8" rx="9.8" ry="7.0" fill="#9490c6" opacity="0.62"/><ellipse cx="3168.7" cy="224.4" rx="6.9" ry="4.3" fill="#9490c6" opacity="0.54"/><ellipse cx="2710.7" cy="176.6" rx="8.9" ry="8.4" fill="#9490c6" opacity="0.53"/><ellipse cx="2707.3" cy="163.7" rx="8.7" ry="5.5" fill="#9490c6" opacity="0.44"/><ellipse cx="2464.0" cy="114.7" rx="6.5" ry="6.1" fill="#9490c6" opacity="0.43"/><ellipse cx="3187.9" cy="205.5" rx="6.0" ry="5.7" fill="#9490c6" opacity="0.39"/><ellipse cx="2433.7" cy="91.8" rx="5.3" ry="3.9" fill="#9490c6" opacity="0.43"/><ellipse cx="2476.2" cy="100.0" rx="8.5" ry="5.2" fill="#9490c6" opacity="0.44"/><ellipse cx="2849.6" cy="207.5" rx="8.3" ry="7.0" fill="#9490c6" opacity="0.63"/><ellipse cx="3062.6" cy="222.3" rx="5.8" ry="3.6" fill="#9490c6" opacity="0.60"/><ellipse cx="2806.8" cy="186.8" rx="8.9" ry="5.9" fill="#9490c6" opacity="0.63"/><ellipse cx="2721.9" cy="161.0" rx="6.2" ry="4.3" fill="#9490c6" opacity="0.58"/><ellipse cx="2839.1" cy="207.9" rx="6.4" ry="5.4" fill="#9490c6" opacity="0.39"/><ellipse cx="2929.2" cy="177.4" rx="9.3" ry="8.7" fill="#9490c6" opacity="0.45"/><ellipse cx="3072.7" cy="197.0" rx="6.5" ry="4.2" fill="#9490c6" opacity="0.53"/><ellipse cx="2425.9" cy="122.2" rx="7.9" ry="5.9" fill="#9490c6" opacity="0.63"/><ellipse cx="2544.4" cy="125.7" rx="6.8" ry="4.1" fill="#9490c6" opacity="0.70"/><ellipse cx="2411.1" cy="80.2" rx="9.0" ry="8.0" fill="#9490c6" opacity="0.53"/><ellipse cx="2717.3" cy="146.3" rx="5.0" ry="3.9" fill="#9490c6" opacity="0.45"/><ellipse cx="2468.8" cy="146.5" rx="5.1" ry="3.7" fill="#9490c6" opacity="0.65"/><ellipse cx="3016.2" cy="184.6" rx="8.7" ry="6.9" fill="#9490c6" opacity="0.60"/><ellipse cx="3196.9" cy="229.6" rx="8.0" ry="7.0" fill="#9490c6" opacity="0.55"/><ellipse cx="2837.0" cy="203.6" rx="8.1" ry="5.9" fill="#9490c6" opacity="0.36"/><ellipse cx="3055.7" cy="199.8" rx="7.1" ry="5.0" fill="#9490c6" opacity="0.57"/><ellipse cx="2698.5" cy="174.6" rx="8.0" ry="6.3" fill="#9490c6" opacity="0.66"/><ellipse cx="2734.8" cy="169.8" rx="8.8" ry="7.5" fill="#9490c6" opacity="0.65"/><ellipse cx="3148.7" cy="218.2" rx="7.8" ry="5.2" fill="#9490c6" opacity="0.45"/><ellipse cx="2729.3" cy="166.6" rx="9.5" ry="5.8" fill="#9490c6" opacity="0.49"/><ellipse cx="3010.2" cy="199.8" rx="9.2" ry="6.1" fill="#9490c6" opacity="0.66"/><ellipse cx="2726.3" cy="169.0" rx="5.3" ry="3.9" fill="#9490c6" opacity="0.67"/><ellipse cx="3005.6" cy="204.1" rx="7.1" ry="4.4" fill="#9490c6" opacity="0.63"/><ellipse cx="2740.2" cy="179.9" rx="8.1" ry="6.0" fill="#9490c6" opacity="0.70"/><ellipse cx="2451.4" cy="144.5" rx="5.4" ry="5.1" fill="#9490c6" opacity="0.58"/><ellipse cx="2741.5" cy="189.8" rx="7.6" ry="5.9" fill="#9490c6" opacity="0.37"/><ellipse cx="3063.0" cy="213.3" rx="6.2" ry="4.0" fill="#9490c6" opacity="0.52"/><ellipse cx="3189.4" cy="233.4" rx="7.3" ry="4.5" fill="#9490c6" opacity="0.68"/><ellipse cx="2515.8" cy="146.8" rx="7.5" ry="7.0" fill="#9490c6" opacity="0.41"/><ellipse cx="3059.4" cy="216.3" rx="5.1" ry="4.1" fill="#9490c6" opacity="0.47"/><ellipse cx="2969.0" cy="219.4" rx="8.3" ry="6.4" fill="#9490c6" opacity="0.59"/><ellipse cx="2558.5" cy="135.2" rx="5.6" ry="4.8" fill="#9490c6" opacity="0.38"/><ellipse cx="2814.3" cy="172.2" rx="7.8" ry="4.8" fill="#9490c6" opacity="0.36"/><ellipse cx="2904.3" cy="203.1" rx="9.4" ry="7.9" fill="#9490c6" opacity="0.75"/><ellipse cx="2461.1" cy="129.7" rx="8.2" ry="5.4" fill="#9490c6" opacity="0.41"/><ellipse cx="2551.0" cy="137.8" rx="8.9" ry="7.6" fill="#9490c6" opacity="0.58"/><ellipse cx="2401.2" cy="109.2" rx="7.6" ry="5.0" fill="#9490c6" opacity="0.60"/><ellipse cx="2555.7" cy="125.4" rx="7.3" ry="6.3" fill="#9490c6" opacity="0.39"/><ellipse cx="2736.6" cy="156.5" rx="8.4" ry="7.4" fill="#9490c6" opacity="0.46"/><ellipse cx="2991.5" cy="198.1" rx="6.1" ry="4.2" fill="#9490c6" opacity="0.57"/><ellipse cx="3071.4" cy="212.7" rx="5.0" ry="4.4" fill="#9490c6" opacity="0.58"/><ellipse cx="2718.3" cy="151.4" rx="7.2" ry="6.1" fill="#9490c6" opacity="0.46"/></g><path d="M2265.0,449.8 L2269.1,451.3 L2273.2,451.8 L2277.3,450.7 L2281.4,451.3 L2285.5,452.6 L2289.6,450.6 L2293.7,451.6 L2297.8,453.6 L2301.9,452.2 L2306.0,451.4 L2310.1,453.6 L2314.2,452.5 L2318.3,452.0 L2322.4,454.4 L2326.5,452.5 L2330.5,452.1 L2334.6,453.9 L2338.7,454.2 L2342.8,453.2 L2346.9,453.9 L2351.0,454.3 L2355.1,453.9 L2359.2,454.8 L2363.3,455.7 L2367.4,454.1 L2371.5,455.1 L2375.6,456.0 L2379.7,454.2 L2383.8,454.6 L2387.9,456.7 L2392.0,454.9 L2396.0,456.0 L2400.1,456.9 L2404.1,455.7 L2408.1,456.3 L2412.1,457.7 L2416.2,457.2 L2420.2,456.4 L2424.2,459.1 L2428.3,457.3 L2432.3,457.4 L2436.3,459.1 L2440.4,458.4 L2444.4,459.1 L2448.4,460.5 L2452.4,459.3 L2456.5,458.8 L2460.5,460.8 L2464.5,460.9 L2468.6,460.3 L2472.6,461.9 L2476.6,461.6 L2480.6,461.2 L2484.7,462.4 L2488.7,462.3 L2492.7,461.9 L2496.8,463.2 L2500.8,462.4 L2504.8,462.3 L2508.9,463.5 L2512.9,463.3 L2516.9,463.8 L2520.9,464.1 L2525.0,465.2 L2529.0,464.4 L2533.1,464.9 L2537.1,465.3 L2541.2,464.7 L2545.2,465.9 L2549.3,466.3 L2553.4,465.7 L2557.4,466.9 L2561.5,467.9 L2565.5,466.9 L2569.6,467.7 L2573.6,468.0 L2577.7,466.8 L2581.8,468.0 L2585.8,469.6 L2589.9,468.4 L2593.9,468.2 L2598.0,470.5 L2602.1,469.5 L2606.1,468.8 L2610.2,470.6 L2614.2,470.5 L2618.3,470.0 L2622.4,472.1 L2626.4,470.7 L2630.5,470.9 L2634.5,472.6 L2638.6,472.0 L2642.6,471.3 L2646.7,473.0 L2650.8,472.8 L2654.8,472.0 L2658.9,473.6 L2662.9,473.1 L2667.0,473.1 L2671.2,473.7 L2675.3,474.1 L2679.4,473.4 L2683.6,474.0 L2687.8,475.1 L2691.9,473.9 L2696.1,474.7 L2700.2,476.1 L2704.3,475.2 L2708.5,475.1 L2712.7,475.8 L2716.8,475.8 L2720.9,475.2 L2725.1,476.6 L2729.2,477.1 L2733.4,475.2 L2737.6,476.3 L2741.7,477.5 L2745.8,475.8 L2750.0,475.8 L2754.0,477.6 L2758.1,476.4 L2762.1,475.3 L2766.1,477.8 L2770.2,475.8 L2774.2,475.4 L2778.2,477.3 L2782.3,475.1 L2786.3,475.1 L2790.3,476.4 L2794.4,475.8 L2798.4,474.5 L2802.4,476.4 L2806.5,475.0 L2810.5,474.2 L2814.6,476.0 L2818.6,475.2 L2822.6,474.4 L2826.7,474.8 L2830.7,474.5 L2834.7,473.9 L2838.8,474.9 L2842.8,474.3 L2846.8,473.8 L2850.9,475.1 L2854.9,474.7 L2858.9,473.1 L2863.0,474.0 L2867.0,473.4 L2871.0,473.1 L2875.1,474.1 L2879.1,474.3 L2883.1,474.1 L2887.1,475.3 L2891.2,475.8 L2895.2,475.0 L2899.2,475.6 L2903.3,476.5 L2907.3,476.1 L2911.3,476.1 L2915.4,477.5 L2919.4,476.2 L2923.4,477.3 L2927.4,478.3 L2931.5,477.2 L2935.5,478.5 L2939.5,479.7 L2943.6,477.8 L2947.6,479.0 L2951.6,480.6 L2955.6,478.6 L2959.7,479.3 L2963.7,480.7 L2967.7,479.9 L2971.8,480.7 L2975.8,481.6 L2979.8,480.9 L2983.9,480.8 L2987.9,482.6 L2991.9,481.7 L2995.9,482.4 L3000.0,483.6 L3004.0,481.9 L3008.1,482.5 L3012.1,484.1 L3016.2,483.9 L3020.2,483.5 L3024.3,485.8 L3028.4,484.9 L3032.4,485.2 L3036.5,487.1 L3040.5,486.3 L3044.6,486.0 L3048.6,487.4 L3052.7,487.6 L3056.8,487.4 L3060.8,488.7 L3064.9,488.9 L3068.9,488.7 L3073.0,490.3 L3077.1,490.2 L3081.1,490.0 L3085.2,491.6 L3089.2,492.3 L3093.3,491.3 L3097.4,491.9 L3101.4,493.1 L3105.5,492.4 L3109.5,492.9 L3113.6,494.9 L3117.6,493.8 L3121.7,494.1 L3125.8,495.9 L3129.8,495.0 L3133.9,495.0 L3137.9,498.1 L3142.0,496.2 L3146.1,495.7 L3150.2,497.2 L3154.3,496.6 L3158.5,495.4 L3162.6,497.0 L3166.7,495.8 L3170.8,495.7 L3174.9,496.3 L3179.0,496.2 L3183.2,494.6 L3187.3,496.1 L3191.4,496.6 L3195.5,495.5 L3199.6,495.2 L3203.7,497.1 L3207.8,494.5 L3212.0,495.4 L3216.1,496.9 L3220.2,494.4 L3224.3,494.6 L3228.4,495.6 L3232.5,495.1 L3236.7,494.6 L3240.8,495.5 L3244.9,494.4 L3249,496 L3249,507 L3244.9,507.4 L3240.8,508.5 L3236.7,510.2 L3232.5,509.7 L3228.4,507.7 L3224.3,508.5 L3220.2,509.6 L3216.1,509.4 L3212.0,507.0 L3207.8,508.6 L3203.7,510.2 L3199.6,509.6 L3195.5,507.1 L3191.4,509.7 L3187.3,509.9 L3183.2,509.3 L3179.0,506.7 L3174.9,509.8 L3170.8,510.3 L3166.7,508.7 L3162.6,507.0 L3158.5,509.5 L3154.3,509.6 L3150.2,508.4 L3146.1,507.7 L3142.0,508.9 L3137.9,509.6 L3133.9,508.5 L3129.8,507.2 L3125.8,508.8 L3121.7,509.5 L3117.6,507.3 L3113.6,507.7 L3109.5,508.5 L3105.5,508.4 L3101.4,507.0 L3097.4,507.2 L3093.3,508.5 L3089.2,507.9 L3085.2,506.4 L3081.1,507.2 L3077.1,508.0 L3073.0,507.2 L3068.9,504.7 L3064.9,507.0 L3060.8,507.8 L3056.8,506.2 L3052.7,504.6 L3048.6,506.9 L3044.6,507.5 L3040.5,505.6 L3036.5,504.4 L3032.4,506.5 L3028.4,506.6 L3024.3,504.4 L3020.2,504.8 L3016.2,506.3 L3012.1,505.7 L3008.1,504.0 L3004.0,505.1 L3000.0,505.8 L2995.9,504.4 L2991.9,501.0 L2987.9,502.8 L2983.9,502.8 L2979.8,501.5 L2975.8,499.4 L2971.8,500.8 L2967.7,501.0 L2963.7,499.2 L2959.7,497.9 L2955.6,499.1 L2951.6,498.2 L2947.6,495.6 L2943.6,496.0 L2939.5,497.4 L2935.5,495.9 L2931.5,492.6 L2927.4,494.1 L2923.4,495.0 L2919.4,493.4 L2915.4,491.2 L2911.3,493.2 L2907.3,492.3 L2903.3,490.1 L2899.2,489.6 L2895.2,490.5 L2891.2,490.2 L2887.1,487.7 L2883.1,488.5 L2879.1,488.8 L2875.1,487.7 L2871.0,484.2 L2867.0,486.4 L2863.0,486.6 L2858.9,485.5 L2854.9,485.2 L2850.9,486.5 L2846.8,486.7 L2842.8,485.3 L2838.8,485.3 L2834.7,487.1 L2830.7,487.3 L2826.7,485.7 L2822.6,486.4 L2818.6,487.3 L2814.6,486.6 L2810.5,485.5 L2806.5,487.9 L2802.4,488.7 L2798.4,487.4 L2794.4,485.9 L2790.3,488.1 L2786.3,488.0 L2782.3,486.8 L2778.2,486.8 L2774.2,489.0 L2770.2,488.2 L2766.1,486.3 L2762.1,487.9 L2758.1,489.4 L2754.0,488.3 L2750.0,486.2 L2745.8,488.0 L2741.7,488.9 L2737.6,487.8 L2733.4,484.9 L2729.2,485.9 L2725.1,487.3 L2720.9,486.1 L2716.8,483.8 L2712.7,484.9 L2708.5,485.4 L2704.3,485.0 L2700.2,483.2 L2696.1,484.3 L2691.9,484.6 L2687.8,484.3 L2683.6,481.6 L2679.4,482.5 L2675.3,483.5 L2671.2,483.4 L2667.0,480.8 L2662.9,481.8 L2658.9,482.1 L2654.8,482.2 L2650.8,479.9 L2646.7,481.0 L2642.6,481.1 L2638.6,480.6 L2634.5,477.6 L2630.5,479.9 L2626.4,479.8 L2622.4,478.8 L2618.3,476.9 L2614.2,478.6 L2610.2,478.9 L2606.1,477.2 L2602.1,476.7 L2598.0,478.4 L2593.9,477.6 L2589.9,475.8 L2585.8,475.8 L2581.8,476.9 L2577.7,476.7 L2573.6,474.1 L2569.6,475.6 L2565.5,476.9 L2561.5,475.8 L2557.4,472.8 L2553.4,475.3 L2549.3,475.1 L2545.2,473.6 L2541.2,471.9 L2537.1,473.6 L2533.1,474.7 L2529.0,472.2 L2525.0,472.0 L2520.9,473.1 L2516.9,473.0 L2512.9,470.6 L2508.9,470.7 L2504.8,472.4 L2500.8,471.4 L2496.8,469.5 L2492.7,470.5 L2488.7,471.2 L2484.7,470.4 L2480.6,467.7 L2476.6,469.6 L2472.6,470.8 L2468.6,469.1 L2464.5,467.3 L2460.5,469.2 L2456.5,469.5 L2452.4,466.7 L2448.4,466.9 L2444.4,468.3 L2440.4,467.9 L2436.3,465.5 L2432.3,466.2 L2428.3,467.2 L2424.2,466.3 L2420.2,464.6 L2416.2,466.2 L2412.1,466.7 L2408.1,463.9 L2404.1,464.2 L2400.1,465.7 L2396.0,464.5 L2392.0,462.4 L2387.9,463.7 L2383.8,464.7 L2379.7,464.2 L2375.6,462.1 L2371.5,463.2 L2367.4,464.0 L2363.3,463.4 L2359.2,461.0 L2355.1,462.6 L2351.0,463.4 L2346.9,462.1 L2342.8,460.3 L2338.7,461.6 L2334.6,462.6 L2330.5,461.2 L2326.5,459.0 L2322.4,461.5 L2318.3,461.7 L2314.2,460.6 L2310.1,459.0 L2306.0,461.4 L2301.9,461.6 L2297.8,459.9 L2293.7,458.5 L2289.6,460.8 L2285.5,461.1 L2281.4,459.1 L2277.3,458.2 L2273.2,460.3 L2269.1,460.6 L2265.0,458.3 Z" fill="#fdf6f2" filter="url(#soft)"/><ellipse cx="2332" cy="287" rx="26" ry="22" fill="#fffbf5"/><polyline points="2403,259 2506,280 2588,293 2670,298 2700,301 2819,313 2939,329 3058,348 3154,367 3249,345" fill="none" stroke="#c0603c" stroke-width="7" opacity="0.45" filter="url(#soft4)"/><polyline points="2362,115 2424,156 2506,179 2588,187 2670,195 2700,200 2819,228 2939,236 3058,245 3178,257 3249,255" fill="none" stroke="#d28a50" stroke-width="18" opacity="0.40" filter="url(#soft4)"/><path d="M2265.0,545.8 L2269.1,544.9 L2273.2,545.6 L2277.3,548.1 L2281.4,546.7 L2285.5,545.3 L2289.6,546.6 L2293.7,549.3 L2297.8,547.8 L2301.9,545.9 L2306.0,547.1 L2310.1,549.1 L2314.2,548.3 L2318.3,547.6 L2322.4,547.9 L2326.5,550.4 L2330.5,548.4 L2334.6,548.1 L2338.7,548.6 L2342.8,550.5 L2346.9,548.6 L2351.0,548.5 L2355.1,549.8 L2359.2,551.4 L2363.3,549.5 L2367.4,549.3 L2371.5,550.6 L2375.6,551.1 L2379.7,549.6 L2383.8,550.2 L2387.9,551.2 L2392.0,551.8 L2396.0,550.7 L2400.1,550.3 L2404.1,552.3 L2408.1,553.1 L2412.1,551.3 L2416.2,552.3 L2420.2,554.5 L2424.2,553.1 L2428.3,552.0 L2432.3,553.5 L2436.3,555.1 L2440.4,554.1 L2444.4,553.2 L2448.4,555.3 L2452.4,556.4 L2456.5,554.1 L2460.5,554.7 L2464.5,557.2 L2468.6,556.0 L2472.6,555.4 L2476.6,556.0 L2480.6,558.0 L2484.7,557.2 L2488.7,556.3 L2492.7,557.6 L2496.8,559.7 L2500.8,557.6 L2504.8,556.9 L2508.9,559.0 L2512.9,560.2 L2516.9,558.2 L2520.9,558.6 L2525.0,561.1 L2529.0,560.2 L2533.1,559.2 L2537.1,559.3 L2541.2,561.8 L2545.2,559.6 L2549.3,559.2 L2553.4,560.3 L2557.4,562.1 L2561.5,560.1 L2565.5,558.6 L2569.6,559.7 L2573.6,561.5 L2577.7,559.7 L2581.8,558.7 L2585.8,560.2 L2589.9,561.3 L2593.9,559.5 L2598.0,559.3 L2602.1,561.5 L2606.1,560.9 L2610.2,559.2 L2614.2,559.9 L2618.3,561.9 L2622.4,560.0 L2626.4,559.3 L2630.5,559.3 L2634.5,561.4 L2638.6,559.6 L2642.6,559.3 L2646.7,559.8 L2650.8,561.8 L2654.8,559.1 L2658.9,559.2 L2662.9,560.2 L2667.0,560.9 L2671.2,558.9 L2675.3,558.4 L2679.4,560.0 L2683.6,560.9 L2687.8,558.6 L2691.9,557.3 L2696.1,559.5 L2700.2,560.1 L2704.3,558.0 L2708.5,557.1 L2712.7,557.5 L2716.8,559.7 L2720.9,557.6 L2725.1,556.8 L2729.2,557.2 L2733.4,558.4 L2737.6,556.4 L2741.7,555.2 L2745.8,556.1 L2750.0,558.2 L2754.0,556.3 L2758.1,556.5 L2762.1,557.0 L2766.1,558.9 L2770.2,558.1 L2774.2,558.2 L2778.2,559.6 L2782.3,560.4 L2786.3,558.9 L2790.3,559.6 L2794.4,562.7 L2798.4,561.2 L2802.4,561.2 L2806.5,562.5 L2810.5,564.4 L2814.6,562.6 L2818.6,562.9 L2822.6,564.4 L2826.7,565.6 L2830.7,564.6 L2834.7,564.6 L2838.8,566.0 L2842.8,567.6 L2846.8,565.4 L2850.9,566.1 L2854.9,568.4 L2858.9,568.7 L2863.0,567.9 L2867.0,568.8 L2871.0,571.8 L2875.1,569.1 L2879.1,569.2 L2883.1,570.4 L2887.1,572.5 L2891.2,570.9 L2895.2,570.5 L2899.2,573.5 L2903.3,573.8 L2907.3,571.8 L2911.3,572.8 L2915.4,575.0 L2919.4,574.0 L2923.4,573.5 L2927.4,574.8 L2931.5,577.2 L2935.5,575.7 L2939.5,575.8 L2943.6,577.3 L2947.6,578.0 L2951.6,577.0 L2955.6,577.8 L2959.7,579.2 L2963.7,579.0 L2967.7,578.3 L2971.8,579.2 L2975.8,581.7 L2979.8,580.5 L2983.9,579.8 L2987.9,581.2 L2991.9,583.1 L2995.9,581.4 L3000.0,581.3 L3004.0,583.1 L3008.1,584.4 L3012.1,583.5 L3016.2,583.4 L3020.2,585.7 L3024.3,586.2 L3028.4,584.1 L3032.4,585.5 L3036.5,587.1 L3040.5,586.7 L3044.6,586.3 L3048.6,587.7 L3052.7,590.0 L3056.8,588.2 L3060.8,587.5 L3064.9,589.2 L3068.9,591.4 L3073.0,590.1 L3077.1,589.2 L3081.1,590.7 L3085.2,592.3 L3089.2,591.0 L3093.3,591.1 L3097.4,593.7 L3101.4,594.2 L3105.5,592.7 L3109.5,593.5 L3113.6,595.6 L3117.6,594.6 L3121.7,593.8 L3125.8,594.7 L3129.8,597.0 L3133.9,595.9 L3137.9,595.4 L3142.0,596.8 L3146.1,599.1 L3150.2,596.8 L3154.3,595.9 L3158.5,597.8 L3162.6,599.3 L3166.7,597.7 L3170.8,597.3 L3174.9,597.8 L3179.0,600.6 L3183.2,598.2 L3187.3,597.6 L3191.4,598.6 L3195.5,601.5 L3199.6,598.5 L3203.7,597.8 L3207.8,599.1 L3212.0,601.8 L3216.1,599.3 L3220.2,599.4 L3224.3,600.0 L3228.4,602.3 L3232.5,600.2 L3236.7,599.8 L3240.8,601.2 L3244.9,602.7 L3249,603 L3249,708 L2265,708 Z" fill="#fcf9fb"/><g filter="url(#soft)"><ellipse cx="2282.0" cy="606.5" rx="14.0" ry="11.5" fill="#8f86bc" opacity="0.8"/><ellipse cx="2318.5" cy="602.5" rx="12.5" ry="9.5" fill="#8f86bc" opacity="0.45"/><ellipse cx="2372.5" cy="607.5" rx="15.5" ry="12.5" fill="#8f86bc" opacity="0.7"/><ellipse cx="2453.5" cy="601.0" rx="17.5" ry="9.0" fill="#8f86bc" opacity="0.8"/><ellipse cx="2485.0" cy="612.5" rx="24.0" ry="7.5" fill="#8f86bc" opacity="0.85"/><ellipse cx="2563.0" cy="599.0" rx="16.0" ry="7.0" fill="#8f86bc" opacity="0.6"/><ellipse cx="2631.5" cy="606.0" rx="17.5" ry="6.0" fill="#8f86bc" opacity="0.75"/><ellipse cx="2696.0" cy="604.0" rx="35.0" ry="6.0" fill="#8f86bc" opacity="0.6"/><ellipse cx="2755.0" cy="610.0" rx="24.0" ry="5.0" fill="#8f86bc" opacity="0.7"/><ellipse cx="2818.5" cy="618.5" rx="23.5" ry="6.5" fill="#8f86bc" opacity="0.85"/><ellipse cx="2858.0" cy="616.0" rx="16.0" ry="6.0" fill="#8f86bc" opacity="0.8"/><ellipse cx="2910.5" cy="626.0" rx="20.5" ry="6.0" fill="#8f86bc" opacity="0.85"/><ellipse cx="2996.0" cy="640.0" rx="43.0" ry="12.0" fill="#8f86bc" opacity="0.75"/><ellipse cx="2309.0" cy="661.5" rx="16.0" ry="6.5" fill="#8f86bc" opacity="0.7"/><ellipse cx="2391.5" cy="672.5" rx="15.5" ry="5.5" fill="#8f86bc" opacity="0.75"/><ellipse cx="2543.5" cy="645.0" rx="9.5" ry="10.0" fill="#8f86bc" opacity="0.45"/><ellipse cx="2631.5" cy="657.5" rx="36.5" ry="12.5" fill="#8f86bc" opacity="0.35"/><ellipse cx="2713.5" cy="659.0" rx="23.5" ry="9.0" fill="#8f86bc" opacity="0.3"/><ellipse cx="2805.5" cy="674.0" rx="14.5" ry="4.0" fill="#8f86bc" opacity="0.6"/><ellipse cx="2732.5" cy="691.0" rx="14.5" ry="6.0" fill="#8f86bc" opacity="0.45"/><ellipse cx="2506.0" cy="701.5" rx="22.0" ry="6.5" fill="#8f86bc" opacity="0.5"/><ellipse cx="2896.5" cy="701.0" rx="12.5" ry="4.0" fill="#8f86bc" opacity="0.5"/><ellipse cx="2985.0" cy="690.5" rx="38.0" ry="7.5" fill="#8f86bc" opacity="0.45"/><ellipse cx="2272.0" cy="632.5" rx="6.0" ry="7.5" fill="#8f86bc" opacity="0.4"/><path d="M2610,588 C2700,580 2800,600 2880,615 S3000,640 3040,648" fill="none" stroke="#e8c0b0" stroke-width="4" opacity="0.7"/></g></g><rect x="3040" y="603" width="210" height="105" fill="#fff"/><rect x="3074" y="682" width="132" height="8" fill="#151515"/>
<text x="10.0" y="76.2" font-size="68" textLength="126.9" lengthAdjust="spacingAndGlyphs" fill="#181818">NFL</text><text x="3.0" y="151.5" font-size="68" textLength="134.0" lengthAdjust="spacingAndGlyphs" fill="#181818">GCL</text><text x="37.0" y="261.1" font-size="68" textLength="99.4" lengthAdjust="spacingAndGlyphs" fill="#181818">IPL</text><text x="24.5" y="410.6" font-size="68" textLength="112.6" lengthAdjust="spacingAndGlyphs" fill="#181818">INL</text><text x="10.0" y="537.0" font-size="68" textLength="126.5" lengthAdjust="spacingAndGlyphs" fill="#181818">OPL</text><text x="-0.5" y="644.0" font-size="68" textLength="137.3" lengthAdjust="spacingAndGlyphs" fill="#181818">ONL</text><text x="1067.5" y="109.8" font-size="71" textLength="49.3" lengthAdjust="spacingAndGlyphs" fill="#181818">A</text><text x="2136.5" y="110.0" font-size="71" textLength="46.6" lengthAdjust="spacingAndGlyphs" fill="#181818">B</text><text x="3164.0" y="109.9" font-size="71" textLength="47.1" lengthAdjust="spacingAndGlyphs" fill="#181818">C</text><text x="986.0" y="649.6" font-size="48" textLength="130.3" lengthAdjust="spacingAndGlyphs" fill="#181818">30 μm</text><text x="2040.5" y="649.6" font-size="48" textLength="129.7" lengthAdjust="spacingAndGlyphs" fill="#181818">30 μm</text><text x="3066.5" y="649.6" font-size="48" textLength="129.0" lengthAdjust="spacingAndGlyphs" fill="#181818">30 μm</text>
<rect x="969" y="989" width="5.00" height="775.00" fill="#181818" /><rect x="969" y="1759" width="1589.00" height="5.00" fill="#181818" /><rect x="974" y="989.0" width="16.00" height="5.00" fill="#181818" /><rect x="974" y="1117.5" width="16.00" height="5.00" fill="#181818" /><rect x="974" y="1245.0" width="16.00" height="5.00" fill="#181818" /><rect x="974" y="1372.5" width="16.00" height="5.00" fill="#181818" /><rect x="974" y="1503.0" width="16.00" height="5.00" fill="#181818" /><rect x="974" y="1631.0" width="16.00" height="5.00" fill="#181818" /><text x="869.5" y="1016.6" font-size="70" textLength="69.5" lengthAdjust="spacingAndGlyphs" fill="#181818">36</text><text x="869.5" y="1146.0" font-size="70" textLength="70.5" lengthAdjust="spacingAndGlyphs" fill="#181818">30</text><text x="868.5" y="1274.6" font-size="70" textLength="69.7" lengthAdjust="spacingAndGlyphs" fill="#181818">24</text><text x="873.5" y="1403.2" font-size="70" textLength="66.3" lengthAdjust="spacingAndGlyphs" fill="#181818">18</text><text x="872.5" y="1533.0" font-size="70" textLength="68.3" lengthAdjust="spacingAndGlyphs" fill="#181818">12</text><text x="905.0" y="1660.0" font-size="70" textLength="34.0" lengthAdjust="spacingAndGlyphs" fill="#181818">6</text><text x="906.0" y="1790.5" font-size="70" textLength="34.0" lengthAdjust="spacingAndGlyphs" fill="#181818">0</text><rect x="1055" y="1566" width="124.00" height="198.00" fill="#181818" /><rect x="1115.1000000000001" y="1488" width="4.60" height="79.00" fill="#181818" /><rect x="1101.5" y="1488" width="33.00" height="5.20" fill="#181818" /><rect x="1183.3" y="1676.3" width="127.20" height="87.70" fill="#181818" /><rect x="1187.80" y="1680.70" width="118.20" height="78.30" fill="url(#dC)"/><rect x="1242.7" y="1625" width="4.60" height="53.00" fill="#181818" /><rect x="1229" y="1625" width="34.00" height="5.30" fill="#181818" /><rect x="1310.1" y="1143.9" width="126.70" height="620.10" fill="#181818" /><rect x="1315.80" y="1148.80" width="116.30" height="610.20" fill="url(#hC)"/><rect x="1370.3" y="1034" width="4.60" height="111.00" fill="#181818" /><rect x="1356" y="1034" width="32.30" height="5.30" fill="#181818" /><rect x="1581.5" y="1658" width="120.20" height="106.00" fill="#181818" /><rect x="1637.4" y="1613" width="4.60" height="46.00" fill="#181818" /><rect x="1624.5" y="1613" width="33.00" height="5.00" fill="#181818" /><rect x="1705.1" y="1645.9" width="128.00" height="120.80" fill="#181818" /><rect x="1710.60" y="1650.80" width="117.60" height="108.20" fill="url(#dM)"/><rect x="1764.7" y="1598" width="4.60" height="49.00" fill="#181818" /><rect x="1752" y="1598" width="31.00" height="5.70" fill="#181818" /><rect x="1833.1" y="1481.9" width="127.60" height="284.80" fill="#181818" /><rect x="1837.80" y="1487.80" width="118.40" height="271.20" fill="url(#hM)"/><rect x="1893.2" y="1382" width="4.60" height="101.00" fill="#181818" /><rect x="1879" y="1382" width="35.00" height="5.20" fill="#181818" /><rect x="2103.3" y="1571.5" width="120.50" height="192.50" fill="#181818" /><rect x="2160.2999999999997" y="1533.4" width="4.60" height="39.10" fill="#181818" /><rect x="2146.5" y="1533.4" width="34.50" height="5.60" fill="#181818" /><rect x="2230.9" y="1607.1" width="125.20" height="159.60" fill="#181818" /><rect x="2235.80" y="1612.70" width="115.30" height="146.30" fill="url(#dG)"/><rect x="2287.2999999999997" y="1560" width="4.60" height="47.60" fill="#181818" /><rect x="2274" y="1560" width="34.60" height="5.60" fill="#181818" /><rect x="2356.1" y="1365.9" width="126.90" height="400.80" fill="#181818" /><rect x="2360.80" y="1371.60" width="117.50" height="387.40" fill="url(#hG)"/><rect x="2415.1" y="1268" width="4.60" height="99.00" fill="#181818" /><rect x="2401.8" y="1268" width="31.70" height="6.30" fill="#181818" /><line x1="1644.5" y1="1553.5" x2="1644.5" y2="1576.5" stroke="#181818" stroke-width="2.6"/><line x1="1644.5" y1="1565" x2="1637.5" y2="1560.3" stroke="#181818" stroke-width="2.4"/><circle cx="1637.64" cy="1560.394" r="2.5" fill="#181818"/><line x1="1644.5" y1="1565" x2="1651.5" y2="1560.3" stroke="#181818" stroke-width="2.4"/><circle cx="1651.36" cy="1560.394" r="2.5" fill="#181818"/><line x1="1644.5" y1="1565" x2="1637.5" y2="1569.3" stroke="#181818" stroke-width="2.4"/><circle cx="1637.64" cy="1569.214" r="2.5" fill="#181818"/><line x1="1644.5" y1="1565" x2="1651.5" y2="1569.3" stroke="#181818" stroke-width="2.4"/><circle cx="1651.36" cy="1569.214" r="2.5" fill="#181818"/><circle cx="1644.5" cy="1556" r="2.1" fill="#181818"/><circle cx="1644.5" cy="1574" r="2.1" fill="#181818"/><rect x="1642.2" y="1562.7" width="4.6" height="4.6" fill="#181818"/><line x1="1898.5" y1="1324.5" x2="1898.5" y2="1347.5" stroke="#181818" stroke-width="2.6"/><line x1="1898.5" y1="1336" x2="1891.5" y2="1331.3" stroke="#181818" stroke-width="2.4"/><circle cx="1891.64" cy="1331.394" r="2.5" fill="#181818"/><line x1="1898.5" y1="1336" x2="1905.5" y2="1331.3" stroke="#181818" stroke-width="2.4"/><circle cx="1905.36" cy="1331.394" r="2.5" fill="#181818"/><line x1="1898.5" y1="1336" x2="1891.5" y2="1340.3" stroke="#181818" stroke-width="2.4"/><circle cx="1891.64" cy="1340.214" r="2.5" fill="#181818"/><line x1="1898.5" y1="1336" x2="1905.5" y2="1340.3" stroke="#181818" stroke-width="2.4"/><circle cx="1905.36" cy="1340.214" r="2.5" fill="#181818"/><circle cx="1898.5" cy="1327" r="2.1" fill="#181818"/><circle cx="1898.5" cy="1345" r="2.1" fill="#181818"/><rect x="1896.2" y="1333.7" width="4.6" height="4.6" fill="#181818"/><rect x="2159.1" y="1459.2" width="23" height="2.7" fill="#181818"/><rect x="2159.1" y="1468.1" width="23" height="2.9" fill="#181818"/><line x1="2168.2" y1="1448.3" x2="2161.5" y2="1480.7" stroke="#181818" stroke-width="2.8"/><line x1="2179.4" y1="1448.3" x2="2172.5" y2="1480.7" stroke="#181818" stroke-width="2.8"/><rect x="2407.5" y="1187.2" width="23" height="2.7" fill="#181818"/><rect x="2407.5" y="1196.1" width="23" height="2.9" fill="#181818"/><line x1="2416.6" y1="1176.3" x2="2409.9" y2="1208.7" stroke="#181818" stroke-width="2.8"/><line x1="2427.8" y1="1176.3" x2="2420.9" y2="1208.7" stroke="#181818" stroke-width="2.8"/><rect x="1299" y="871" width="42.00" height="43.00" fill="#181818" /><text x="1396.0" y="912.5" font-size="71" textLength="135.0" lengthAdjust="spacingAndGlyphs" fill="#181818">GCL</text><rect x="1764.1" y="871.1" width="46.70" height="46.70" fill="#181818" /><rect x="1768.9" y="876.9" width="36.2" height="36.2" fill="#fff"/><rect x="1768.9" y="878.1" width="2.1" height="4.7" fill="#222"/><rect x="1786.3" y="878.1" width="4.5" height="4.7" fill="#222"/><rect x="1776.2" y="888.1" width="4.5" height="4.7" fill="#222"/><rect x="1795.4" y="888.1" width="4.5" height="4.7" fill="#222"/><rect x="1768.9" y="898.2" width="2.1" height="4.7" fill="#222"/><rect x="1786.3" y="898.2" width="4.5" height="4.7" fill="#222"/><rect x="1776.2" y="908.2" width="4.5" height="4.7" fill="#222"/><rect x="1795.4" y="908.2" width="4.5" height="4.7" fill="#222"/><text x="1863.0" y="913.2" font-size="71" textLength="115.7" lengthAdjust="spacingAndGlyphs" fill="#181818">INL</text><rect x="2158.1" y="878.1" width="43.80" height="44.70" fill="#181818" /><rect x="2162.7" y="882.9" width="34.4" height="34.2" fill="#fff"/><path d="M2162.7,889 h2.1 v5.2 h5 v4.6 h5.2 v4.9 h4.8 v5 h5.1 v4.8 h5 v3.6 h-9.7 v-3.6 h-5 v-4.8 h-5.1 v-5 h-5 v-4.9 h-2.3 v-4.6 h-0.1 z" fill="#222"/><path d="M2184.9,882.9 h12.2 v10.9 h-2.1 v-5.2 h-5 v-4.7 h-5.1 z" fill="#222"/><rect x="2193.6" y="882.9" width="2.4" height="1.3" fill="#fff"/><text x="2253.0" y="921.0" font-size="71" textLength="105.5" lengthAdjust="spacingAndGlyphs" fill="#181818">IPL</text><text x="2599.0" y="940.3" font-size="71" textLength="50.3" lengthAdjust="spacingAndGlyphs" fill="#181818">D</text><text x="1098.0" y="1853.0" font-size="71" textLength="203.2" lengthAdjust="spacingAndGlyphs" fill="#181818">Control</text><text x="1716.0" y="1853.0" font-size="71" textLength="173.4" lengthAdjust="spacingAndGlyphs" fill="#181818">Model</text><text x="2274.0" y="1857.8" font-size="71" textLength="91.7" lengthAdjust="spacingAndGlyphs" fill="#181818">GL</text><text transform="translate(784.0,1756.0) rotate(-90)" font-size="70" textLength="751.6" lengthAdjust="spacingAndGlyphs" fill="#181818">GAP43 staining intensity/%</text>
</svg>
</body></html>
